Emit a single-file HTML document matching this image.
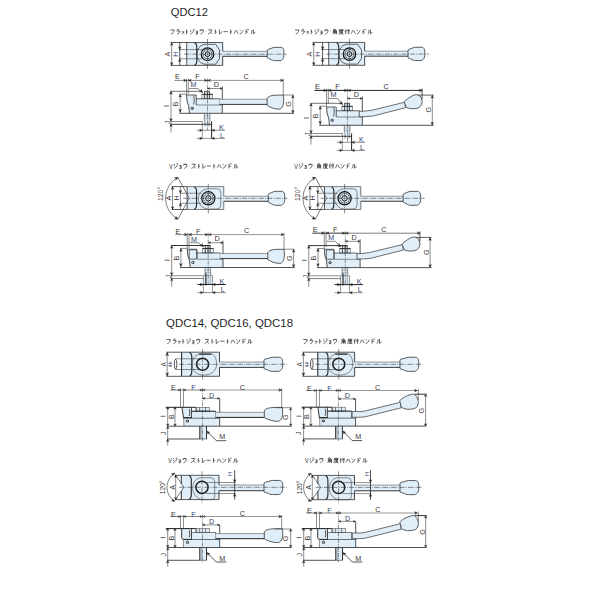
<!DOCTYPE html>
<html><head><meta charset="utf-8"><style>
html,body{margin:0;padding:0;background:#fff;}
svg{display:block;font-family:"Liberation Sans",sans-serif;}
</style></head><body>
<svg width="600" height="600" viewBox="0 0 600 600">
<rect width="600" height="600" fill="#fff"/>
<text x="170.8" y="16.3" font-size="11.7" fill="#1e1e1e" textLength="37.1" lengthAdjust="spacingAndGlyphs">QDC12</text>
<text x="166" y="326.8" font-size="11.7" fill="#1e1e1e" textLength="127" lengthAdjust="spacingAndGlyphs">QDC14, QDC16, QDC18</text>
<path transform="translate(169.5,29) scale(0.54,0.53)" d="M1.5,1.8 H8.6 C8.4,5.5 6.5,8.2 2.8,9.6" stroke="#222" stroke-width="1.31" fill="none" stroke-linecap="butt"/>
<path transform="translate(175.71,29) scale(0.48,0.53)" d="M2.8,1.2 H7.4 M1.8,3.8 H8.4 C8.2,7 6.3,8.8 3,9.6" stroke="#222" stroke-width="1.39" fill="none" stroke-linecap="butt"/>
<path transform="translate(181.09,29) scale(0.35,0.53)" d="M2.6,4.6 L3.4,6.6 M4.8,4.2 L5.5,6.2 M7.8,4.4 C7.6,7.4 6,8.9 3.6,9.6" stroke="#222" stroke-width="1.59" fill="none" stroke-linecap="butt"/>
<path transform="translate(185.33,29) scale(0.33,0.53)" d="M3.6,0.8 V9.6 M3.6,4.4 L8,6.2" stroke="#222" stroke-width="1.63" fill="none" stroke-linecap="butt"/>
<path transform="translate(189.47,29) scale(0.51,0.53)" d="M1.6,1.6 L3.6,2.8 M1,4.4 L3,5.6 M1.8,9.4 C5.5,8 7.6,5.4 8.6,2.2 M6.8,0.2 L7.6,1.6 M8.6,0 L9.4,1.4" stroke="#222" stroke-width="1.35" fill="none" stroke-linecap="butt"/>
<path transform="translate(194.85,29) scale(0.35,0.53)" d="M2.4,4 H7.4 V9.6 H2.4 M2.8,6.8 H7.4" stroke="#222" stroke-width="1.59" fill="none" stroke-linecap="butt"/>
<path transform="translate(199.2,29) scale(0.5,0.53)" d="M5,0.2 V2 M1.8,2 V4.4 M1.8,2 H8.4 C8.2,6 6.4,8.6 3,9.6" stroke="#222" stroke-width="1.36" fill="none" stroke-linecap="butt"/>
<path transform="translate(205,29) scale(0.17,0.53)" d="M4.4,5 H5.6" stroke="#222" stroke-width="2.01" fill="none" stroke-linecap="butt"/>
<path transform="translate(207.27,29) scale(0.58,0.53)" d="M1.8,1.6 H7.8 C6.6,5.4 4.6,7.8 1.2,9.6 M5.4,5.8 L8.8,9.2" stroke="#222" stroke-width="1.26" fill="none" stroke-linecap="butt"/>
<path transform="translate(214.1,29) scale(0.33,0.53)" d="M3.6,0.8 V9.6 M3.6,4.4 L8,6.2" stroke="#222" stroke-width="1.63" fill="none" stroke-linecap="butt"/>
<path transform="translate(218.24,29) scale(0.43,0.53)" d="M2.8,0.8 V9.2 C6,8.6 7.8,6.6 9,4.2" stroke="#222" stroke-width="1.45" fill="none" stroke-linecap="butt"/>
<path transform="translate(223.21,29) scale(0.5,0.53)" d="M0.8,5 H9.2" stroke="#222" stroke-width="1.36" fill="none" stroke-linecap="butt"/>
<path transform="translate(229.42,29) scale(0.33,0.53)" d="M3.6,0.8 V9.6 M3.6,4.4 L8,6.2" stroke="#222" stroke-width="1.63" fill="none" stroke-linecap="butt"/>
<path transform="translate(233.56,29) scale(0.5,0.53)" d="M3.6,2.4 C3.4,5.6 2.4,7.6 0.8,9 M6.2,2.4 C7.2,5.4 8,7.2 9.4,8.8" stroke="#222" stroke-width="1.36" fill="none" stroke-linecap="butt"/>
<path transform="translate(238.94,29) scale(0.47,0.53)" d="M1.4,1.8 L3.8,3.4 M1.6,9.4 C5.6,8.4 7.6,6 8.8,2.4" stroke="#222" stroke-width="1.41" fill="none" stroke-linecap="butt"/>
<path transform="translate(244.32,29) scale(0.48,0.53)" d="M3.6,0.8 V9.6 M3.6,4.4 L7.6,6.2 M6.6,0.4 L7.2,2 M8.4,0.2 L9,1.8" stroke="#222" stroke-width="1.39" fill="none" stroke-linecap="butt"/>
<path transform="translate(250.12,29) scale(0.54,0.53)" d="M3.4,1.6 C3.4,6 3,8 1,9.6 M6,1.2 V9.2 C7.6,8.4 8.6,7.2 9.4,5.6" stroke="#222" stroke-width="1.31" fill="none" stroke-linecap="butt"/>
<path transform="translate(294.2,29) scale(0.54,0.53)" d="M1.5,1.8 H8.6 C8.4,5.5 6.5,8.2 2.8,9.6" stroke="#222" stroke-width="1.31" fill="none" stroke-linecap="butt"/>
<path transform="translate(300.4,29) scale(0.48,0.53)" d="M2.8,1.2 H7.4 M1.8,3.8 H8.4 C8.2,7 6.3,8.8 3,9.6" stroke="#222" stroke-width="1.39" fill="none" stroke-linecap="butt"/>
<path transform="translate(305.77,29) scale(0.35,0.53)" d="M2.6,4.6 L3.4,6.6 M4.8,4.2 L5.5,6.2 M7.8,4.4 C7.6,7.4 6,8.9 3.6,9.6" stroke="#222" stroke-width="1.59" fill="none" stroke-linecap="butt"/>
<path transform="translate(310,29) scale(0.33,0.53)" d="M3.6,0.8 V9.6 M3.6,4.4 L8,6.2" stroke="#222" stroke-width="1.63" fill="none" stroke-linecap="butt"/>
<path transform="translate(314.14,29) scale(0.51,0.53)" d="M1.6,1.6 L3.6,2.8 M1,4.4 L3,5.6 M1.8,9.4 C5.5,8 7.6,5.4 8.6,2.2 M6.8,0.2 L7.6,1.6 M8.6,0 L9.4,1.4" stroke="#222" stroke-width="1.35" fill="none" stroke-linecap="butt"/>
<path transform="translate(319.51,29) scale(0.35,0.53)" d="M2.4,4 H7.4 V9.6 H2.4 M2.8,6.8 H7.4" stroke="#222" stroke-width="1.59" fill="none" stroke-linecap="butt"/>
<path transform="translate(323.85,29) scale(0.5,0.53)" d="M5,0.2 V2 M1.8,2 V4.4 M1.8,2 H8.4 C8.2,6 6.4,8.6 3,9.6" stroke="#222" stroke-width="1.36" fill="none" stroke-linecap="butt"/>
<path transform="translate(329.63,29) scale(0.17,0.53)" d="M4.4,5 H5.6" stroke="#222" stroke-width="2.01" fill="none" stroke-linecap="butt"/>
<path transform="translate(331.9,29) scale(0.56,0.53)" d="M3.6,0.2 L2,2.2 M3.4,1 H6.6 L5.6,2.4 M2.6,3 V7 C2.6,8.4 2,9.2 1.2,9.8 M2.6,3 H8.2 V9.8 M2.6,5 H8.2 M2.6,7 H8.2 M5.4,3 V9.8" stroke="#222" stroke-width="1.29" fill="none" stroke-linecap="butt"/>
<path transform="translate(338.41,29) scale(0.56,0.53)" d="M5,0 V1.2 M1.6,1.4 H9.2 M1.8,1.4 V6 C1.8,7.8 1.4,8.8 0.6,9.8 M2.8,3.4 H8.8 M4.4,2.4 V5.4 M7.2,2.4 V5.4 M4.4,5.4 H7.2 M3.4,6.6 H7.8 C6.6,8.6 4.8,9.4 2.6,9.8 M4.6,7.4 C6,8.8 7.6,9.4 9.2,9.8" stroke="#222" stroke-width="1.29" fill="none" stroke-linecap="butt"/>
<path transform="translate(344.61,29) scale(0.54,0.53)" d="M3,0.2 C2.4,2.4 1.6,4 0.4,5.4 M2,3.4 V9.8 M3.8,3 H9.6 M7.8,0.2 V9.4 L6.8,8.8 M4.6,4.8 L5.8,6.6" stroke="#222" stroke-width="1.31" fill="none" stroke-linecap="butt"/>
<path transform="translate(350.6,29) scale(0.5,0.53)" d="M3.6,2.4 C3.4,5.6 2.4,7.6 0.8,9 M6.2,2.4 C7.2,5.4 8,7.2 9.4,8.8" stroke="#222" stroke-width="1.36" fill="none" stroke-linecap="butt"/>
<path transform="translate(355.97,29) scale(0.46,0.53)" d="M1.4,1.8 L3.8,3.4 M1.6,9.4 C5.6,8.4 7.6,6 8.8,2.4" stroke="#222" stroke-width="1.41" fill="none" stroke-linecap="butt"/>
<path transform="translate(361.34,29) scale(0.48,0.53)" d="M3.6,0.8 V9.6 M3.6,4.4 L7.6,6.2 M6.6,0.4 L7.2,2 M8.4,0.2 L9,1.8" stroke="#222" stroke-width="1.39" fill="none" stroke-linecap="butt"/>
<path transform="translate(367.13,29) scale(0.54,0.53)" d="M3.4,1.6 C3.4,6 3,8 1,9.6 M6,1.2 V9.2 C7.6,8.4 8.6,7.2 9.4,5.6" stroke="#222" stroke-width="1.31" fill="none" stroke-linecap="butt"/>
<text x="169.2" y="168.65" font-size="7.21" fill="#222" textLength="3.47" lengthAdjust="spacingAndGlyphs">V</text>
<path transform="translate(173.28,163.35) scale(0.5,0.53)" d="M1.6,1.6 L3.6,2.8 M1,4.4 L3,5.6 M1.8,9.4 C5.5,8 7.6,5.4 8.6,2.2 M6.8,0.2 L7.6,1.6 M8.6,0 L9.4,1.4" stroke="#222" stroke-width="1.36" fill="none" stroke-linecap="butt"/>
<path transform="translate(178.58,163.35) scale(0.35,0.53)" d="M2.4,4 H7.4 V9.6 H2.4 M2.8,6.8 H7.4" stroke="#222" stroke-width="1.6" fill="none" stroke-linecap="butt"/>
<path transform="translate(182.86,163.35) scale(0.49,0.53)" d="M5,0.2 V2 M1.8,2 V4.4 M1.8,2 H8.4 C8.2,6 6.4,8.6 3,9.6" stroke="#222" stroke-width="1.37" fill="none" stroke-linecap="butt"/>
<path transform="translate(188.56,163.35) scale(0.16,0.53)" d="M4.4,5 H5.6" stroke="#222" stroke-width="2.02" fill="none" stroke-linecap="butt"/>
<path transform="translate(190.81,163.35) scale(0.57,0.53)" d="M1.8,1.6 H7.8 C6.6,5.4 4.6,7.8 1.2,9.6 M5.4,5.8 L8.8,9.2" stroke="#222" stroke-width="1.27" fill="none" stroke-linecap="butt"/>
<path transform="translate(197.53,163.35) scale(0.33,0.53)" d="M3.6,0.8 V9.6 M3.6,4.4 L8,6.2" stroke="#222" stroke-width="1.64" fill="none" stroke-linecap="butt"/>
<path transform="translate(201.61,163.35) scale(0.43,0.53)" d="M2.8,0.8 V9.2 C6,8.6 7.8,6.6 9,4.2" stroke="#222" stroke-width="1.46" fill="none" stroke-linecap="butt"/>
<path transform="translate(206.5,163.35) scale(0.49,0.53)" d="M0.8,5 H9.2" stroke="#222" stroke-width="1.37" fill="none" stroke-linecap="butt"/>
<path transform="translate(212.62,163.35) scale(0.33,0.53)" d="M3.6,0.8 V9.6 M3.6,4.4 L8,6.2" stroke="#222" stroke-width="1.64" fill="none" stroke-linecap="butt"/>
<path transform="translate(216.69,163.35) scale(0.49,0.53)" d="M3.6,2.4 C3.4,5.6 2.4,7.6 0.8,9 M6.2,2.4 C7.2,5.4 8,7.2 9.4,8.8" stroke="#222" stroke-width="1.37" fill="none" stroke-linecap="butt"/>
<path transform="translate(221.99,163.35) scale(0.46,0.53)" d="M1.4,1.8 L3.8,3.4 M1.6,9.4 C5.6,8.4 7.6,6 8.8,2.4" stroke="#222" stroke-width="1.42" fill="none" stroke-linecap="butt"/>
<path transform="translate(227.29,163.35) scale(0.47,0.53)" d="M3.6,0.8 V9.6 M3.6,4.4 L7.6,6.2 M6.6,0.4 L7.2,2 M8.4,0.2 L9,1.8" stroke="#222" stroke-width="1.4" fill="none" stroke-linecap="butt"/>
<path transform="translate(233,163.35) scale(0.53,0.53)" d="M3.4,1.6 C3.4,6 3,8 1,9.6 M6,1.2 V9.2 C7.6,8.4 8.6,7.2 9.4,5.6" stroke="#222" stroke-width="1.32" fill="none" stroke-linecap="butt"/>
<text x="294.2" y="168.65" font-size="7.21" fill="#222" textLength="3.51" lengthAdjust="spacingAndGlyphs">V</text>
<path transform="translate(298.33,163.35) scale(0.51,0.53)" d="M1.6,1.6 L3.6,2.8 M1,4.4 L3,5.6 M1.8,9.4 C5.5,8 7.6,5.4 8.6,2.2 M6.8,0.2 L7.6,1.6 M8.6,0 L9.4,1.4" stroke="#222" stroke-width="1.35" fill="none" stroke-linecap="butt"/>
<path transform="translate(303.7,163.35) scale(0.35,0.53)" d="M2.4,4 H7.4 V9.6 H2.4 M2.8,6.8 H7.4" stroke="#222" stroke-width="1.59" fill="none" stroke-linecap="butt"/>
<path transform="translate(308.04,163.35) scale(0.5,0.53)" d="M5,0.2 V2 M1.8,2 V4.4 M1.8,2 H8.4 C8.2,6 6.4,8.6 3,9.6" stroke="#222" stroke-width="1.36" fill="none" stroke-linecap="butt"/>
<path transform="translate(313.83,163.35) scale(0.17,0.53)" d="M4.4,5 H5.6" stroke="#222" stroke-width="2.01" fill="none" stroke-linecap="butt"/>
<path transform="translate(316.1,163.35) scale(0.56,0.53)" d="M3.6,0.2 L2,2.2 M3.4,1 H6.6 L5.6,2.4 M2.6,3 V7 C2.6,8.4 2,9.2 1.2,9.8 M2.6,3 H8.2 V9.8 M2.6,5 H8.2 M2.6,7 H8.2 M5.4,3 V9.8" stroke="#222" stroke-width="1.29" fill="none" stroke-linecap="butt"/>
<path transform="translate(322.61,163.35) scale(0.56,0.53)" d="M5,0 V1.2 M1.6,1.4 H9.2 M1.8,1.4 V6 C1.8,7.8 1.4,8.8 0.6,9.8 M2.8,3.4 H8.8 M4.4,2.4 V5.4 M7.2,2.4 V5.4 M4.4,5.4 H7.2 M3.4,6.6 H7.8 C6.6,8.6 4.8,9.4 2.6,9.8 M4.6,7.4 C6,8.8 7.6,9.4 9.2,9.8" stroke="#222" stroke-width="1.29" fill="none" stroke-linecap="butt"/>
<path transform="translate(328.81,163.35) scale(0.54,0.53)" d="M3,0.2 C2.4,2.4 1.6,4 0.4,5.4 M2,3.4 V9.8 M3.8,3 H9.6 M7.8,0.2 V9.4 L6.8,8.8 M4.6,4.8 L5.8,6.6" stroke="#222" stroke-width="1.31" fill="none" stroke-linecap="butt"/>
<path transform="translate(334.8,163.35) scale(0.5,0.53)" d="M3.6,2.4 C3.4,5.6 2.4,7.6 0.8,9 M6.2,2.4 C7.2,5.4 8,7.2 9.4,8.8" stroke="#222" stroke-width="1.36" fill="none" stroke-linecap="butt"/>
<path transform="translate(340.17,163.35) scale(0.46,0.53)" d="M1.4,1.8 L3.8,3.4 M1.6,9.4 C5.6,8.4 7.6,6 8.8,2.4" stroke="#222" stroke-width="1.41" fill="none" stroke-linecap="butt"/>
<path transform="translate(345.54,163.35) scale(0.48,0.53)" d="M3.6,0.8 V9.6 M3.6,4.4 L7.6,6.2 M6.6,0.4 L7.2,2 M8.4,0.2 L9,1.8" stroke="#222" stroke-width="1.39" fill="none" stroke-linecap="butt"/>
<path transform="translate(351.33,163.35) scale(0.54,0.53)" d="M3.4,1.6 C3.4,6 3,8 1,9.6 M6,1.2 V9.2 C7.6,8.4 8.6,7.2 9.4,5.6" stroke="#222" stroke-width="1.31" fill="none" stroke-linecap="butt"/>
<path transform="translate(165.8,338.55) scale(0.54,0.53)" d="M1.5,1.8 H8.6 C8.4,5.5 6.5,8.2 2.8,9.6" stroke="#222" stroke-width="1.31" fill="none" stroke-linecap="butt"/>
<path transform="translate(172.06,338.55) scale(0.48,0.53)" d="M2.8,1.2 H7.4 M1.8,3.8 H8.4 C8.2,7 6.3,8.8 3,9.6" stroke="#222" stroke-width="1.39" fill="none" stroke-linecap="butt"/>
<path transform="translate(177.49,338.55) scale(0.35,0.53)" d="M2.6,4.6 L3.4,6.6 M4.8,4.2 L5.5,6.2 M7.8,4.4 C7.6,7.4 6,8.9 3.6,9.6" stroke="#222" stroke-width="1.58" fill="none" stroke-linecap="butt"/>
<path transform="translate(181.76,338.55) scale(0.33,0.53)" d="M3.6,0.8 V9.6 M3.6,4.4 L8,6.2" stroke="#222" stroke-width="1.62" fill="none" stroke-linecap="butt"/>
<path transform="translate(185.94,338.55) scale(0.51,0.53)" d="M1.6,1.6 L3.6,2.8 M1,4.4 L3,5.6 M1.8,9.4 C5.5,8 7.6,5.4 8.6,2.2 M6.8,0.2 L7.6,1.6 M8.6,0 L9.4,1.4" stroke="#222" stroke-width="1.34" fill="none" stroke-linecap="butt"/>
<path transform="translate(191.36,338.55) scale(0.35,0.53)" d="M2.4,4 H7.4 V9.6 H2.4 M2.8,6.8 H7.4" stroke="#222" stroke-width="1.58" fill="none" stroke-linecap="butt"/>
<path transform="translate(195.74,338.55) scale(0.5,0.53)" d="M5,0.2 V2 M1.8,2 V4.4 M1.8,2 H8.4 C8.2,6 6.4,8.6 3,9.6" stroke="#222" stroke-width="1.36" fill="none" stroke-linecap="butt"/>
<path transform="translate(201.59,338.55) scale(0.17,0.53)" d="M4.4,5 H5.6" stroke="#222" stroke-width="2.01" fill="none" stroke-linecap="butt"/>
<path transform="translate(203.88,338.55) scale(0.58,0.53)" d="M1.8,1.6 H7.8 C6.6,5.4 4.6,7.8 1.2,9.6 M5.4,5.8 L8.8,9.2" stroke="#222" stroke-width="1.26" fill="none" stroke-linecap="butt"/>
<path transform="translate(210.77,338.55) scale(0.33,0.53)" d="M3.6,0.8 V9.6 M3.6,4.4 L8,6.2" stroke="#222" stroke-width="1.62" fill="none" stroke-linecap="butt"/>
<path transform="translate(214.94,338.55) scale(0.44,0.53)" d="M2.8,0.8 V9.2 C6,8.6 7.8,6.6 9,4.2" stroke="#222" stroke-width="1.45" fill="none" stroke-linecap="butt"/>
<path transform="translate(219.95,338.55) scale(0.5,0.53)" d="M0.8,5 H9.2" stroke="#222" stroke-width="1.36" fill="none" stroke-linecap="butt"/>
<path transform="translate(226.21,338.55) scale(0.33,0.53)" d="M3.6,0.8 V9.6 M3.6,4.4 L8,6.2" stroke="#222" stroke-width="1.62" fill="none" stroke-linecap="butt"/>
<path transform="translate(230.38,338.55) scale(0.5,0.53)" d="M3.6,2.4 C3.4,5.6 2.4,7.6 0.8,9 M6.2,2.4 C7.2,5.4 8,7.2 9.4,8.8" stroke="#222" stroke-width="1.36" fill="none" stroke-linecap="butt"/>
<path transform="translate(235.81,338.55) scale(0.47,0.53)" d="M1.4,1.8 L3.8,3.4 M1.6,9.4 C5.6,8.4 7.6,6 8.8,2.4" stroke="#222" stroke-width="1.4" fill="none" stroke-linecap="butt"/>
<path transform="translate(241.23,338.55) scale(0.48,0.53)" d="M3.6,0.8 V9.6 M3.6,4.4 L7.6,6.2 M6.6,0.4 L7.2,2 M8.4,0.2 L9,1.8" stroke="#222" stroke-width="1.39" fill="none" stroke-linecap="butt"/>
<path transform="translate(247.07,338.55) scale(0.54,0.53)" d="M3.4,1.6 C3.4,6 3,8 1,9.6 M6,1.2 V9.2 C7.6,8.4 8.6,7.2 9.4,5.6" stroke="#222" stroke-width="1.31" fill="none" stroke-linecap="butt"/>
<path transform="translate(302.5,338.55) scale(0.54,0.53)" d="M1.5,1.8 H8.6 C8.4,5.5 6.5,8.2 2.8,9.6" stroke="#222" stroke-width="1.3" fill="none" stroke-linecap="butt"/>
<path transform="translate(308.77,338.55) scale(0.48,0.53)" d="M2.8,1.2 H7.4 M1.8,3.8 H8.4 C8.2,7 6.3,8.8 3,9.6" stroke="#222" stroke-width="1.39" fill="none" stroke-linecap="butt"/>
<path transform="translate(314.2,338.55) scale(0.36,0.53)" d="M2.6,4.6 L3.4,6.6 M4.8,4.2 L5.5,6.2 M7.8,4.4 C7.6,7.4 6,8.9 3.6,9.6" stroke="#222" stroke-width="1.58" fill="none" stroke-linecap="butt"/>
<path transform="translate(318.49,338.55) scale(0.33,0.53)" d="M3.6,0.8 V9.6 M3.6,4.4 L8,6.2" stroke="#222" stroke-width="1.62" fill="none" stroke-linecap="butt"/>
<path transform="translate(322.67,338.55) scale(0.51,0.53)" d="M1.6,1.6 L3.6,2.8 M1,4.4 L3,5.6 M1.8,9.4 C5.5,8 7.6,5.4 8.6,2.2 M6.8,0.2 L7.6,1.6 M8.6,0 L9.4,1.4" stroke="#222" stroke-width="1.34" fill="none" stroke-linecap="butt"/>
<path transform="translate(328.1,338.55) scale(0.36,0.53)" d="M2.4,4 H7.4 V9.6 H2.4 M2.8,6.8 H7.4" stroke="#222" stroke-width="1.58" fill="none" stroke-linecap="butt"/>
<path transform="translate(332.49,338.55) scale(0.5,0.53)" d="M5,0.2 V2 M1.8,2 V4.4 M1.8,2 H8.4 C8.2,6 6.4,8.6 3,9.6" stroke="#222" stroke-width="1.36" fill="none" stroke-linecap="butt"/>
<path transform="translate(338.34,338.55) scale(0.17,0.53)" d="M4.4,5 H5.6" stroke="#222" stroke-width="2.01" fill="none" stroke-linecap="butt"/>
<path transform="translate(340.64,338.55) scale(0.56,0.53)" d="M3.6,0.2 L2,2.2 M3.4,1 H6.6 L5.6,2.4 M2.6,3 V7 C2.6,8.4 2,9.2 1.2,9.8 M2.6,3 H8.2 V9.8 M2.6,5 H8.2 M2.6,7 H8.2 M5.4,3 V9.8" stroke="#222" stroke-width="1.28" fill="none" stroke-linecap="butt"/>
<path transform="translate(347.22,338.55) scale(0.56,0.53)" d="M5,0 V1.2 M1.6,1.4 H9.2 M1.8,1.4 V6 C1.8,7.8 1.4,8.8 0.6,9.8 M2.8,3.4 H8.8 M4.4,2.4 V5.4 M7.2,2.4 V5.4 M4.4,5.4 H7.2 M3.4,6.6 H7.8 C6.6,8.6 4.8,9.4 2.6,9.8 M4.6,7.4 C6,8.8 7.6,9.4 9.2,9.8" stroke="#222" stroke-width="1.28" fill="none" stroke-linecap="butt"/>
<path transform="translate(353.49,338.55) scale(0.54,0.53)" d="M3,0.2 C2.4,2.4 1.6,4 0.4,5.4 M2,3.4 V9.8 M3.8,3 H9.6 M7.8,0.2 V9.4 L6.8,8.8 M4.6,4.8 L5.8,6.6" stroke="#222" stroke-width="1.3" fill="none" stroke-linecap="butt"/>
<path transform="translate(359.55,338.55) scale(0.5,0.53)" d="M3.6,2.4 C3.4,5.6 2.4,7.6 0.8,9 M6.2,2.4 C7.2,5.4 8,7.2 9.4,8.8" stroke="#222" stroke-width="1.36" fill="none" stroke-linecap="butt"/>
<path transform="translate(364.98,338.55) scale(0.47,0.53)" d="M1.4,1.8 L3.8,3.4 M1.6,9.4 C5.6,8.4 7.6,6 8.8,2.4" stroke="#222" stroke-width="1.4" fill="none" stroke-linecap="butt"/>
<path transform="translate(370.42,338.55) scale(0.48,0.53)" d="M3.6,0.8 V9.6 M3.6,4.4 L7.6,6.2 M6.6,0.4 L7.2,2 M8.4,0.2 L9,1.8" stroke="#222" stroke-width="1.39" fill="none" stroke-linecap="butt"/>
<path transform="translate(376.27,338.55) scale(0.54,0.53)" d="M3.4,1.6 C3.4,6 3,8 1,9.6 M6,1.2 V9.2 C7.6,8.4 8.6,7.2 9.4,5.6" stroke="#222" stroke-width="1.3" fill="none" stroke-linecap="butt"/>
<text x="168.3" y="462.95" font-size="7.21" fill="#222" textLength="3.51" lengthAdjust="spacingAndGlyphs">V</text>
<path transform="translate(172.43,457.65) scale(0.51,0.53)" d="M1.6,1.6 L3.6,2.8 M1,4.4 L3,5.6 M1.8,9.4 C5.5,8 7.6,5.4 8.6,2.2 M6.8,0.2 L7.6,1.6 M8.6,0 L9.4,1.4" stroke="#222" stroke-width="1.35" fill="none" stroke-linecap="butt"/>
<path transform="translate(177.8,457.65) scale(0.35,0.53)" d="M2.4,4 H7.4 V9.6 H2.4 M2.8,6.8 H7.4" stroke="#222" stroke-width="1.59" fill="none" stroke-linecap="butt"/>
<path transform="translate(182.13,457.65) scale(0.5,0.53)" d="M5,0.2 V2 M1.8,2 V4.4 M1.8,2 H8.4 C8.2,6 6.4,8.6 3,9.6" stroke="#222" stroke-width="1.37" fill="none" stroke-linecap="butt"/>
<path transform="translate(187.92,457.65) scale(0.17,0.53)" d="M4.4,5 H5.6" stroke="#222" stroke-width="2.01" fill="none" stroke-linecap="butt"/>
<path transform="translate(190.19,457.65) scale(0.58,0.53)" d="M1.8,1.6 H7.8 C6.6,5.4 4.6,7.8 1.2,9.6 M5.4,5.8 L8.8,9.2" stroke="#222" stroke-width="1.26" fill="none" stroke-linecap="butt"/>
<path transform="translate(197,457.65) scale(0.33,0.53)" d="M3.6,0.8 V9.6 M3.6,4.4 L8,6.2" stroke="#222" stroke-width="1.63" fill="none" stroke-linecap="butt"/>
<path transform="translate(201.13,457.65) scale(0.43,0.53)" d="M2.8,0.8 V9.2 C6,8.6 7.8,6.6 9,4.2" stroke="#222" stroke-width="1.45" fill="none" stroke-linecap="butt"/>
<path transform="translate(206.09,457.65) scale(0.5,0.53)" d="M0.8,5 H9.2" stroke="#222" stroke-width="1.37" fill="none" stroke-linecap="butt"/>
<path transform="translate(212.28,457.65) scale(0.33,0.53)" d="M3.6,0.8 V9.6 M3.6,4.4 L8,6.2" stroke="#222" stroke-width="1.63" fill="none" stroke-linecap="butt"/>
<path transform="translate(216.41,457.65) scale(0.5,0.53)" d="M3.6,2.4 C3.4,5.6 2.4,7.6 0.8,9 M6.2,2.4 C7.2,5.4 8,7.2 9.4,8.8" stroke="#222" stroke-width="1.37" fill="none" stroke-linecap="butt"/>
<path transform="translate(221.78,457.65) scale(0.46,0.53)" d="M1.4,1.8 L3.8,3.4 M1.6,9.4 C5.6,8.4 7.6,6 8.8,2.4" stroke="#222" stroke-width="1.41" fill="none" stroke-linecap="butt"/>
<path transform="translate(227.15,457.65) scale(0.47,0.53)" d="M3.6,0.8 V9.6 M3.6,4.4 L7.6,6.2 M6.6,0.4 L7.2,2 M8.4,0.2 L9,1.8" stroke="#222" stroke-width="1.39" fill="none" stroke-linecap="butt"/>
<path transform="translate(232.93,457.65) scale(0.54,0.53)" d="M3.4,1.6 C3.4,6 3,8 1,9.6 M6,1.2 V9.2 C7.6,8.4 8.6,7.2 9.4,5.6" stroke="#222" stroke-width="1.31" fill="none" stroke-linecap="butt"/>
<text x="305" y="462.95" font-size="7.21" fill="#222" textLength="3.51" lengthAdjust="spacingAndGlyphs">V</text>
<path transform="translate(309.13,457.65) scale(0.51,0.53)" d="M1.6,1.6 L3.6,2.8 M1,4.4 L3,5.6 M1.8,9.4 C5.5,8 7.6,5.4 8.6,2.2 M6.8,0.2 L7.6,1.6 M8.6,0 L9.4,1.4" stroke="#222" stroke-width="1.35" fill="none" stroke-linecap="butt"/>
<path transform="translate(314.5,457.65) scale(0.35,0.53)" d="M2.4,4 H7.4 V9.6 H2.4 M2.8,6.8 H7.4" stroke="#222" stroke-width="1.59" fill="none" stroke-linecap="butt"/>
<path transform="translate(318.84,457.65) scale(0.5,0.53)" d="M5,0.2 V2 M1.8,2 V4.4 M1.8,2 H8.4 C8.2,6 6.4,8.6 3,9.6" stroke="#222" stroke-width="1.36" fill="none" stroke-linecap="butt"/>
<path transform="translate(324.63,457.65) scale(0.17,0.53)" d="M4.4,5 H5.6" stroke="#222" stroke-width="2.01" fill="none" stroke-linecap="butt"/>
<path transform="translate(326.9,457.65) scale(0.56,0.53)" d="M3.6,0.2 L2,2.2 M3.4,1 H6.6 L5.6,2.4 M2.6,3 V7 C2.6,8.4 2,9.2 1.2,9.8 M2.6,3 H8.2 V9.8 M2.6,5 H8.2 M2.6,7 H8.2 M5.4,3 V9.8" stroke="#222" stroke-width="1.29" fill="none" stroke-linecap="butt"/>
<path transform="translate(333.41,457.65) scale(0.56,0.53)" d="M5,0 V1.2 M1.6,1.4 H9.2 M1.8,1.4 V6 C1.8,7.8 1.4,8.8 0.6,9.8 M2.8,3.4 H8.8 M4.4,2.4 V5.4 M7.2,2.4 V5.4 M4.4,5.4 H7.2 M3.4,6.6 H7.8 C6.6,8.6 4.8,9.4 2.6,9.8 M4.6,7.4 C6,8.8 7.6,9.4 9.2,9.8" stroke="#222" stroke-width="1.29" fill="none" stroke-linecap="butt"/>
<path transform="translate(339.61,457.65) scale(0.54,0.53)" d="M3,0.2 C2.4,2.4 1.6,4 0.4,5.4 M2,3.4 V9.8 M3.8,3 H9.6 M7.8,0.2 V9.4 L6.8,8.8 M4.6,4.8 L5.8,6.6" stroke="#222" stroke-width="1.31" fill="none" stroke-linecap="butt"/>
<path transform="translate(345.6,457.65) scale(0.5,0.53)" d="M3.6,2.4 C3.4,5.6 2.4,7.6 0.8,9 M6.2,2.4 C7.2,5.4 8,7.2 9.4,8.8" stroke="#222" stroke-width="1.36" fill="none" stroke-linecap="butt"/>
<path transform="translate(350.97,457.65) scale(0.46,0.53)" d="M1.4,1.8 L3.8,3.4 M1.6,9.4 C5.6,8.4 7.6,6 8.8,2.4" stroke="#222" stroke-width="1.41" fill="none" stroke-linecap="butt"/>
<path transform="translate(356.34,457.65) scale(0.48,0.53)" d="M3.6,0.8 V9.6 M3.6,4.4 L7.6,6.2 M6.6,0.4 L7.2,2 M8.4,0.2 L9,1.8" stroke="#222" stroke-width="1.39" fill="none" stroke-linecap="butt"/>
<path transform="translate(362.13,457.65) scale(0.54,0.53)" d="M3.4,1.6 C3.4,6 3,8 1,9.6 M6,1.2 V9.2 C7.6,8.4 8.6,7.2 9.4,5.6" stroke="#222" stroke-width="1.31" fill="none" stroke-linecap="butt"/>
<rect x="186.7" y="42.5" width="36" height="22.9" fill="#e0eef9"/>
<rect x="222.7" y="51.3" width="44.6" height="5" fill="#e0eef9"/>
<line x1="222.7" y1="51.3" x2="267.3" y2="51.3" stroke="#555" stroke-width="0.6"/>
<line x1="222.7" y1="56.3" x2="267.3" y2="56.3" stroke="#222" stroke-width="0.9"/>
<path d="M267.3,50.15 C268.29,49.21 269.49,48.84 270.98,48.44 C272.27,47.95 273.26,47.35 274.76,47.35 L281.12,47.35 C282.21,47.35 283.2,48.24 283.6,49.43 C284,50.53 284,52.01 284,54 C284,56.48 283.8,57.97 282.71,59.16 C281.81,60.15 281.02,60.65 280.02,60.65 L274.76,60.65 C273.07,60.65 271.57,59.96 269.98,59.06 C269.09,58.68 268.19,58.06 267.3,57.75 Z" stroke="#333" stroke-width="0.8" fill="#e0eef9" />
<line x1="170.5" y1="42.5" x2="222.7" y2="42.5" stroke="#262626" stroke-width="0.75"/>
<line x1="170.5" y1="65.4" x2="222.7" y2="65.4" stroke="#262626" stroke-width="0.75"/>
<line x1="186.7" y1="42.5" x2="186.7" y2="65.4" stroke="#262626" stroke-width="0.75"/>
<line x1="222.7" y1="42.5" x2="222.7" y2="51.3" stroke="#262626" stroke-width="0.85"/>
<line x1="222.7" y1="56.3" x2="222.7" y2="65.4" stroke="#262626" stroke-width="0.85"/>
<line x1="179" y1="49.6" x2="202.5" y2="49.6" stroke="#444" stroke-width="0.6"/>
<line x1="179" y1="58.75" x2="202.5" y2="58.75" stroke="#444" stroke-width="0.6"/>
<path d="M194.5,42.8 C196.5,43.5 196.8,45.5 196.8,47.5 L196.8,60.4 C196.8,62.4 196.5,64.4 194.5,65.1" stroke="#1a1a1a" stroke-width="1.05" fill="none" />
<path d="M204,44.3 H215.7 L219.5,50 V58.5 L215.7,64.2 H204 A10.5,10.5 0 0 1 204,44.3 Z" stroke="#333" stroke-width="0.75" fill="none" />
<circle cx="207.5" cy="54.2" r="6.3" stroke="#141414" stroke-width="1.25" fill="#e0eef9"/>
<circle cx="207.5" cy="54.2" r="4.5" stroke="#222" stroke-width="0.95" fill="none" stroke-dasharray="1.7,0.6"/>
<circle cx="207.5" cy="54.2" r="2.4" stroke="#1a1a1a" stroke-width="1.0" fill="none"/>
<circle cx="207.5" cy="54.2" r="0.9" stroke="#555" stroke-width="0.5" fill="none"/>
<line x1="207.5" y1="39" x2="207.5" y2="68.7" stroke="#3a3a3a" stroke-width="0.6" stroke-dasharray="5,1.2,1,1.2"/>
<line x1="184" y1="54.2" x2="286.7" y2="54.2" stroke="#3a3a3a" stroke-width="0.6" stroke-dasharray="5,1.2,1,1.2"/>
<line x1="171.7" y1="42.5" x2="171.7" y2="65.4" stroke="#404040" stroke-width="0.6"/>
<path d="M171.7,42.5 L173.12,45.4 L171.7,44.59 L170.28,45.4 Z" fill="#222" stroke="#222" stroke-width="0.25" stroke-linejoin="round"/>
<path d="M171.7,65.4 L170.28,62.5 L171.7,63.31 L173.12,62.5 Z" fill="#222" stroke="#222" stroke-width="0.25" stroke-linejoin="round"/>
<line x1="179.75" y1="42.5" x2="179.75" y2="65.4" stroke="#2a2a2a" stroke-width="0.8"/>
<path d="M179.75,49.6 L178.33,46.7 L179.75,47.51 L181.17,46.7 Z" fill="#222" stroke="#222" stroke-width="0.25" stroke-linejoin="round"/>
<path d="M179.75,58.75 L181.17,61.65 L179.75,60.84 L178.33,61.65 Z" fill="#222" stroke="#222" stroke-width="0.25" stroke-linejoin="round"/>
<text x="167" y="56.79" font-size="7.2" fill="#5a4a44" text-anchor="middle" transform="rotate(-90 167 54.2)">A</text>
<text x="175.2" y="56.79" font-size="7.2" fill="#4a4a6a" text-anchor="middle" transform="rotate(-90 175.2 54.2)">H</text>
<rect x="328.7" y="42.4" width="36" height="22.9" fill="#e0eef9"/>
<rect x="364.7" y="51.2" width="43.3" height="5" fill="#e0eef9"/>
<line x1="364.7" y1="51.2" x2="408" y2="51.2" stroke="#555" stroke-width="0.6"/>
<line x1="364.7" y1="56.2" x2="408" y2="56.2" stroke="#222" stroke-width="0.9"/>
<path d="M408,50.05 C409,49.11 410.2,48.74 411.7,48.34 C413,47.85 414,47.25 415.5,47.25 L421.9,47.25 C423,47.25 424,48.14 424.4,49.33 C424.8,50.43 424.8,51.91 424.8,53.9 C424.8,56.38 424.6,57.87 423.5,59.06 C422.6,60.05 421.8,60.55 420.8,60.55 L415.5,60.55 C413.8,60.55 412.3,59.86 410.7,58.96 C409.8,58.58 408.9,57.96 408,57.65 Z" stroke="#333" stroke-width="0.8" fill="#e0eef9" />
<line x1="312.5" y1="42.4" x2="364.7" y2="42.4" stroke="#262626" stroke-width="0.75"/>
<line x1="312.5" y1="65.3" x2="364.7" y2="65.3" stroke="#262626" stroke-width="0.75"/>
<line x1="328.7" y1="42.4" x2="328.7" y2="65.3" stroke="#262626" stroke-width="0.75"/>
<line x1="364.7" y1="42.4" x2="364.7" y2="51.2" stroke="#262626" stroke-width="0.85"/>
<line x1="364.7" y1="56.2" x2="364.7" y2="65.3" stroke="#262626" stroke-width="0.85"/>
<line x1="321" y1="49.5" x2="344.5" y2="49.5" stroke="#444" stroke-width="0.6"/>
<line x1="321" y1="58.65" x2="344.5" y2="58.65" stroke="#444" stroke-width="0.6"/>
<path d="M336.5,42.7 C338.5,43.4 338.8,45.4 338.8,47.4 L338.8,60.3 C338.8,62.3 338.5,64.3 336.5,65" stroke="#1a1a1a" stroke-width="1.05" fill="none" />
<path d="M346,44.2 H357.7 L361.5,49.9 V58.4 L357.7,64.1 H346 A10.5,10.5 0 0 1 346,44.2 Z" stroke="#333" stroke-width="0.75" fill="none" />
<circle cx="349.5" cy="54.1" r="6.3" stroke="#141414" stroke-width="1.25" fill="#e0eef9"/>
<circle cx="349.5" cy="54.1" r="4.5" stroke="#222" stroke-width="0.95" fill="none" stroke-dasharray="1.7,0.6"/>
<circle cx="349.5" cy="54.1" r="2.4" stroke="#1a1a1a" stroke-width="1.0" fill="none"/>
<circle cx="349.5" cy="54.1" r="0.9" stroke="#555" stroke-width="0.5" fill="none"/>
<line x1="349.5" y1="38.9" x2="349.5" y2="68.6" stroke="#3a3a3a" stroke-width="0.6" stroke-dasharray="5,1.2,1,1.2"/>
<line x1="326" y1="54.1" x2="429" y2="54.1" stroke="#3a3a3a" stroke-width="0.6" stroke-dasharray="5,1.2,1,1.2"/>
<line x1="313.7" y1="42.4" x2="313.7" y2="65.3" stroke="#404040" stroke-width="0.6"/>
<path d="M313.7,42.4 L315.12,45.3 L313.7,44.49 L312.28,45.3 Z" fill="#222" stroke="#222" stroke-width="0.25" stroke-linejoin="round"/>
<path d="M313.7,65.3 L312.28,62.4 L313.7,63.21 L315.12,62.4 Z" fill="#222" stroke="#222" stroke-width="0.25" stroke-linejoin="round"/>
<line x1="322.6" y1="42.4" x2="322.6" y2="65.3" stroke="#2a2a2a" stroke-width="0.8"/>
<path d="M322.6,49.5 L321.18,46.6 L322.6,47.41 L324.02,46.6 Z" fill="#222" stroke="#222" stroke-width="0.25" stroke-linejoin="round"/>
<path d="M322.6,58.65 L324.02,61.55 L322.6,60.74 L321.18,61.55 Z" fill="#222" stroke="#222" stroke-width="0.25" stroke-linejoin="round"/>
<text x="309" y="56.69" font-size="7.2" fill="#5a4a44" text-anchor="middle" transform="rotate(-90 309 54.1)">A</text>
<text x="317.2" y="56.69" font-size="7.2" fill="#4a4a6a" text-anchor="middle" transform="rotate(-90 317.2 54.1)">H</text>
<rect x="187.1" y="186.6" width="36.65" height="22.9" fill="#e0eef9"/>
<rect x="223.75" y="196.25" width="44.5" height="5" fill="#e0eef9"/>
<line x1="223.75" y1="196.25" x2="268.25" y2="196.25" stroke="#555" stroke-width="0.6"/>
<line x1="223.75" y1="201.25" x2="268.25" y2="201.25" stroke="#222" stroke-width="0.9"/>
<path d="M268.25,194.35 C269.23,193.38 270.41,192.87 271.88,192.45 C273.16,191.93 274.14,191.3 275.62,191.3 L281.9,191.3 C282.98,191.3 283.96,192.24 284.36,193.49 C284.75,194.64 284.75,196.21 284.75,198.3 C284.75,200.91 284.55,202.48 283.47,203.73 C282.59,204.78 281.8,205.3 280.82,205.3 L275.62,205.3 C273.95,205.3 272.47,204.57 270.9,203.63 C270.02,203.11 269.13,202.47 268.25,202.15 Z" stroke="#333" stroke-width="0.8" fill="#e0eef9" />
<line x1="171.7" y1="186.6" x2="187.1" y2="186.6" stroke="#262626" stroke-width="0.75"/>
<line x1="171.7" y1="209.5" x2="187.1" y2="209.5" stroke="#262626" stroke-width="0.75"/>
<line x1="187.1" y1="186.6" x2="223.75" y2="186.6" stroke="#555" stroke-width="0.75"/>
<line x1="187.1" y1="209.5" x2="223.75" y2="209.5" stroke="#555" stroke-width="0.75"/>
<line x1="187.1" y1="186.6" x2="187.1" y2="209.5" stroke="#262626" stroke-width="0.8"/>
<line x1="223.75" y1="186.6" x2="223.75" y2="196.25" stroke="#555" stroke-width="0.8"/>
<line x1="223.75" y1="201.25" x2="223.75" y2="209.5" stroke="#555" stroke-width="0.8"/>
<path d="M177.9,177.45 L189.2,198.3 L177.9,219.15" stroke="#333" stroke-width="0.65" fill="none" />
<path d="M177.9,177.45 A23.72,23.72 0 0 0 177.9,219.15" stroke="#333" stroke-width="0.6" fill="none" />
<path d="M178.1,177.35 L175.85,180.34 L175.95,178.52 L174.37,177.61 Z" fill="#222" stroke="#222" stroke-width="0.25" stroke-linejoin="round"/>
<path d="M178.1,219.25 L174.37,218.99 L175.95,218.08 L175.85,216.26 Z" fill="#222" stroke="#222" stroke-width="0.25" stroke-linejoin="round"/>
<line x1="179.8" y1="193.25" x2="201.3" y2="193.25" stroke="#444" stroke-width="0.6"/>
<line x1="179.8" y1="203.25" x2="201.3" y2="203.25" stroke="#444" stroke-width="0.6"/>
<path d="M194.25,186.9 C196.25,187.6 196.55,189.6 196.55,191.6 L196.55,204.5 C196.55,206.5 196.25,208.5 194.25,209.2" stroke="#1a1a1a" stroke-width="1.05" fill="none" />
<path d="M208.3,188.75 H216.8 Q220.8,188.75 220.8,192.75 V205 Q220.8,209 216.8,209 H208.3 A10.1,10.1 0 0 1 208.3,188.75 Z" stroke="#444" stroke-width="0.6" fill="none" />
<circle cx="208.3" cy="198.3" r="6.6" stroke="#141414" stroke-width="1.25" fill="#e0eef9"/>
<circle cx="208.3" cy="198.3" r="4.8" stroke="#222" stroke-width="0.95" fill="none" stroke-dasharray="1.7,0.6"/>
<circle cx="208.3" cy="198.3" r="2.7" stroke="#1a1a1a" stroke-width="1.0" fill="none"/>
<circle cx="208.3" cy="198.3" r="0.9" stroke="#555" stroke-width="0.5" fill="none"/>
<line x1="208.3" y1="183.8" x2="208.3" y2="213.3" stroke="#3a3a3a" stroke-width="0.6" stroke-dasharray="5,1.2,1,1.2"/>
<line x1="183.2" y1="198.3" x2="287.5" y2="198.3" stroke="#3a3a3a" stroke-width="0.6" stroke-dasharray="5,1.2,1,1.2"/>
<line x1="172.5" y1="186.6" x2="172.5" y2="209.5" stroke="#404040" stroke-width="0.6"/>
<path d="M172.5,186.6 L173.92,189.5 L172.5,188.69 L171.08,189.5 Z" fill="#222" stroke="#222" stroke-width="0.25" stroke-linejoin="round"/>
<path d="M172.5,209.5 L171.08,206.6 L172.5,207.41 L173.92,206.6 Z" fill="#222" stroke="#222" stroke-width="0.25" stroke-linejoin="round"/>
<line x1="180.4" y1="186.6" x2="180.4" y2="209.5" stroke="#404040" stroke-width="0.6"/>
<path d="M180.4,193.25 L178.98,190.35 L180.4,191.16 L181.82,190.35 Z" fill="#222" stroke="#222" stroke-width="0.25" stroke-linejoin="round"/>
<path d="M180.4,203.25 L181.82,206.15 L180.4,205.34 L178.98,206.15 Z" fill="#222" stroke="#222" stroke-width="0.25" stroke-linejoin="round"/>
<text x="160.35" y="196.35" font-size="6.8" fill="#3b3333" text-anchor="middle" transform="rotate(-90 160.35 193.9)">120°</text>
<text x="168.75" y="200.59" font-size="7.2" fill="#3b3333" text-anchor="middle" transform="rotate(-90 168.75 198)">A</text>
<text x="176.25" y="200.59" font-size="7.2" fill="#3b3333" text-anchor="middle" transform="rotate(-90 176.25 198)">H</text>
<rect x="324.5" y="186.6" width="36.3" height="22.9" fill="#e0eef9"/>
<rect x="360.8" y="196.25" width="42.4" height="5" fill="#e0eef9"/>
<line x1="360.8" y1="196.25" x2="403.2" y2="196.25" stroke="#555" stroke-width="0.6"/>
<line x1="360.8" y1="201.25" x2="403.2" y2="201.25" stroke="#222" stroke-width="0.9"/>
<path d="M403.2,194.35 C404.24,193.38 405.49,192.87 407.05,192.45 C408.41,191.93 409.45,191.3 411.01,191.3 L417.68,191.3 C418.82,191.3 419.87,192.24 420.28,193.49 C420.7,194.64 420.7,196.21 420.7,198.3 C420.7,200.91 420.49,202.48 419.35,203.73 C418.41,204.78 417.57,205.3 416.53,205.3 L411.01,205.3 C409.24,205.3 407.68,204.57 406.01,203.63 C405.07,203.11 404.14,202.47 403.2,202.15 Z" stroke="#333" stroke-width="0.8" fill="#e0eef9" />
<line x1="309.1" y1="186.6" x2="324.5" y2="186.6" stroke="#262626" stroke-width="0.75"/>
<line x1="309.1" y1="209.5" x2="324.5" y2="209.5" stroke="#262626" stroke-width="0.75"/>
<line x1="324.5" y1="186.6" x2="360.8" y2="186.6" stroke="#555" stroke-width="0.75"/>
<line x1="324.5" y1="209.5" x2="360.8" y2="209.5" stroke="#555" stroke-width="0.75"/>
<line x1="324.5" y1="186.6" x2="324.5" y2="209.5" stroke="#262626" stroke-width="0.8"/>
<line x1="360.8" y1="186.6" x2="360.8" y2="196.25" stroke="#555" stroke-width="0.8"/>
<line x1="360.8" y1="201.25" x2="360.8" y2="209.5" stroke="#555" stroke-width="0.8"/>
<path d="M315.3,177.45 L326.6,198.3 L315.3,219.15" stroke="#333" stroke-width="0.65" fill="none" />
<path d="M315.3,177.45 A23.72,23.72 0 0 0 315.3,219.15" stroke="#333" stroke-width="0.6" fill="none" />
<path d="M315.5,177.35 L313.25,180.34 L313.35,178.52 L311.77,177.61 Z" fill="#222" stroke="#222" stroke-width="0.25" stroke-linejoin="round"/>
<path d="M315.5,219.25 L311.77,218.99 L313.35,218.08 L313.25,216.26 Z" fill="#222" stroke="#222" stroke-width="0.25" stroke-linejoin="round"/>
<line x1="317.2" y1="193.25" x2="337.6" y2="193.25" stroke="#444" stroke-width="0.6"/>
<line x1="317.2" y1="203.25" x2="337.6" y2="203.25" stroke="#444" stroke-width="0.6"/>
<path d="M331.54,186.9 C333.54,187.6 333.84,189.6 333.84,191.6 L333.84,204.5 C333.84,206.5 333.54,208.5 331.54,209.2" stroke="#1a1a1a" stroke-width="1.05" fill="none" />
<path d="M344.6,188.75 H353.1 Q357.1,188.75 357.1,192.75 V205 Q357.1,209 353.1,209 H344.6 A10.1,10.1 0 0 1 344.6,188.75 Z" stroke="#444" stroke-width="0.6" fill="none" />
<circle cx="344.6" cy="198.3" r="6.6" stroke="#141414" stroke-width="1.25" fill="#e0eef9"/>
<circle cx="344.6" cy="198.3" r="4.8" stroke="#222" stroke-width="0.95" fill="none" stroke-dasharray="1.7,0.6"/>
<circle cx="344.6" cy="198.3" r="2.7" stroke="#1a1a1a" stroke-width="1.0" fill="none"/>
<circle cx="344.6" cy="198.3" r="0.9" stroke="#555" stroke-width="0.5" fill="none"/>
<line x1="344.6" y1="183.8" x2="344.6" y2="213.3" stroke="#3a3a3a" stroke-width="0.6" stroke-dasharray="5,1.2,1,1.2"/>
<line x1="320.6" y1="198.3" x2="424.8" y2="198.3" stroke="#3a3a3a" stroke-width="0.6" stroke-dasharray="5,1.2,1,1.2"/>
<line x1="309.9" y1="186.6" x2="309.9" y2="209.5" stroke="#404040" stroke-width="0.6"/>
<path d="M309.9,186.6 L311.32,189.5 L309.9,188.69 L308.48,189.5 Z" fill="#222" stroke="#222" stroke-width="0.25" stroke-linejoin="round"/>
<path d="M309.9,209.5 L308.48,206.6 L309.9,207.41 L311.32,206.6 Z" fill="#222" stroke="#222" stroke-width="0.25" stroke-linejoin="round"/>
<line x1="317.8" y1="186.6" x2="317.8" y2="209.5" stroke="#404040" stroke-width="0.6"/>
<path d="M317.8,193.25 L316.38,190.35 L317.8,191.16 L319.22,190.35 Z" fill="#222" stroke="#222" stroke-width="0.25" stroke-linejoin="round"/>
<path d="M317.8,203.25 L319.22,206.15 L317.8,205.34 L316.38,206.15 Z" fill="#222" stroke="#222" stroke-width="0.25" stroke-linejoin="round"/>
<text x="297.75" y="196.35" font-size="6.8" fill="#3b3333" text-anchor="middle" transform="rotate(-90 297.75 193.9)">120°</text>
<text x="305.05" y="200.59" font-size="7.2" fill="#3b3333" text-anchor="middle" transform="rotate(-90 305.05 198)">A</text>
<text x="312.55" y="200.59" font-size="7.2" fill="#3b3333" text-anchor="middle" transform="rotate(-90 312.55 198)">H</text>
<rect x="196.25" y="98.75" width="23.35" height="6.25" fill="#e0eef9"/>
<path d="M188.6,105 H222.3 V113.3 H189.5 Z" stroke="none" stroke-width="0" fill="#e0eef9" />
<path d="M186.6,95 L196.25,95 L196.25,105 L188.6,105.5 C187.2,103 186.8,100 186.6,95 Z" stroke="none" stroke-width="0" fill="#e0eef9" />
<rect x="204.4" y="91.3" width="5.2" height="3" fill="#e0eef9"/>
<rect x="201.9" y="94.3" width="10.8" height="4.45" stroke="#666" stroke-width="0.6" fill="#e0eef9"/>
<line x1="201.9" y1="94.3" x2="212.7" y2="94.3" stroke="#222" stroke-width="0.85"/>
<line x1="204.4" y1="91.3" x2="209.6" y2="91.3" stroke="#222" stroke-width="0.8"/>
<line x1="204.6" y1="91.3" x2="204.6" y2="98.75" stroke="#222" stroke-width="0.8"/>
<line x1="207.3" y1="91.3" x2="207.3" y2="98.75" stroke="#222" stroke-width="0.8"/>
<line x1="209.4" y1="91.3" x2="209.4" y2="98.75" stroke="#222" stroke-width="0.8"/>
<line x1="196.25" y1="98.75" x2="219.6" y2="98.75" stroke="#262626" stroke-width="0.7"/>
<line x1="196.25" y1="105" x2="222.3" y2="105" stroke="#444" stroke-width="0.6"/>
<line x1="219.6" y1="98.75" x2="219.6" y2="105" stroke="#444" stroke-width="0.6"/>
<line x1="222.3" y1="86.5" x2="222.3" y2="113.3" stroke="#262626" stroke-width="0.8"/>
<path d="M186.6,95 C186.8,100 187.2,103 188.6,105.5 L189.5,113.3" stroke="#222" stroke-width="0.8" fill="none" />
<path d="M186.7,95 H196.25 V105" stroke="#262626" stroke-width="0.7" fill="none" />
<path d="M193.6,95.5 C194.4,98 194.4,102 193.6,104.5" stroke="#333" stroke-width="0.8" fill="none" />
<circle cx="192" cy="108.3" r="1.1" stroke="#222" stroke-width="0.8" fill="none"/>
<line x1="193.1" y1="107.2" x2="193.1" y2="109.5" stroke="#222" stroke-width="0.65"/>
<rect x="204.3" y="113.3" width="5.6" height="8" fill="#e0eef9"/>
<line x1="204.3" y1="113.3" x2="204.3" y2="121.3" stroke="#444" stroke-width="0.6"/>
<line x1="209.9" y1="113.3" x2="209.9" y2="121.3" stroke="#444" stroke-width="0.6"/>
<line x1="204.3" y1="116" x2="209.9" y2="116" stroke="#666" stroke-width="0.4"/>
<line x1="204.3" y1="118.4" x2="209.9" y2="118.4" stroke="#666" stroke-width="0.4"/>
<rect x="205" y="121.3" width="4.2" height="5.2" fill="#e0eef9"/>
<line x1="205" y1="121.3" x2="205" y2="126.5" stroke="#444" stroke-width="0.6"/>
<line x1="209.2" y1="121.3" x2="209.2" y2="126.5" stroke="#444" stroke-width="0.6"/>
<line x1="202.3" y1="121.3" x2="202.3" y2="138.4" stroke="#555" stroke-width="0.6"/>
<line x1="211.6" y1="121.3" x2="211.6" y2="138.4" stroke="#1a1a1a" stroke-width="0.95"/>
<line x1="207.5" y1="78.5" x2="207.5" y2="130" stroke="#3a3a3a" stroke-width="0.55" stroke-dasharray="4,1,1,1"/>
<line x1="174.6" y1="80.4" x2="207.5" y2="80.4" stroke="#333" stroke-width="0.6"/>
<path d="M186.5,80.4 L183.6,81.82 L184.41,80.4 L183.6,78.98 Z" fill="#222" stroke="#222" stroke-width="0.25" stroke-linejoin="round"/>
<path d="M188.3,80.4 L191.2,78.98 L190.39,80.4 L191.2,81.82 Z" fill="#222" stroke="#222" stroke-width="0.25" stroke-linejoin="round"/>
<path d="M207.3,80.4 L204.4,81.82 L205.21,80.4 L204.4,78.98 Z" fill="#222" stroke="#222" stroke-width="0.25" stroke-linejoin="round"/>
<path d="M207.7,80.4 L210.6,78.98 L209.79,80.4 L210.6,81.82 Z" fill="#222" stroke="#222" stroke-width="0.25" stroke-linejoin="round"/>
<line x1="186.5" y1="78.6" x2="186.5" y2="95" stroke="#404040" stroke-width="0.6"/>
<line x1="188.3" y1="78.6" x2="188.3" y2="94" stroke="#404040" stroke-width="0.6"/>
<line x1="207.5" y1="88.5" x2="222.3" y2="88.5" stroke="#404040" stroke-width="0.6"/>
<path d="M207.6,88.5 L209.8,87.42 L209.18,88.5 L209.8,89.58 Z" fill="#222" stroke="#222" stroke-width="0.25" stroke-linejoin="round"/>
<path d="M222.2,88.5 L220,89.58 L220.62,88.5 L220,87.42 Z" fill="#222" stroke="#222" stroke-width="0.25" stroke-linejoin="round"/>
<line x1="188.8" y1="88.5" x2="197.5" y2="88.5" stroke="#404040" stroke-width="0.6"/>
<line x1="197.5" y1="88.5" x2="202.6" y2="92.5" stroke="#333" stroke-width="0.7"/>
<path d="M202.8,92.5 L199.23,91.62 L200.98,90.97 L201.31,89.14 Z" fill="#222" stroke="#222" stroke-width="0.25" stroke-linejoin="round"/>
<line x1="170.5" y1="91.3" x2="201.3" y2="91.3" stroke="#222" stroke-width="0.65"/>
<line x1="171" y1="91.3" x2="171" y2="132.5" stroke="#404040" stroke-width="0.6"/>
<path d="M171,91.3 L172.42,94.2 L171,93.39 L169.58,94.2 Z" fill="#222" stroke="#222" stroke-width="0.25" stroke-linejoin="round"/>
<path d="M171,121.3 L169.58,118.4 L171,119.21 L172.42,118.4 Z" fill="#222" stroke="#222" stroke-width="0.25" stroke-linejoin="round"/>
<line x1="179.3" y1="94.2" x2="186.5" y2="94.2" stroke="#404040" stroke-width="0.6"/>
<line x1="180.2" y1="94.2" x2="180.2" y2="113.3" stroke="#404040" stroke-width="0.6"/>
<path d="M180.2,94.4 L181.62,97.3 L180.2,96.49 L178.78,97.3 Z" fill="#222" stroke="#222" stroke-width="0.25" stroke-linejoin="round"/>
<path d="M180.2,112.2 L178.78,109.3 L180.2,110.11 L181.62,109.3 Z" fill="#222" stroke="#222" stroke-width="0.25" stroke-linejoin="round"/>
<line x1="170.5" y1="121.5" x2="202.4" y2="121.5" stroke="#404040" stroke-width="0.6"/>
<line x1="170.5" y1="124.3" x2="211.8" y2="124.3" stroke="#1e1e1e" stroke-width="0.85"/>
<path d="M171,124.3 L172.42,126.5 L171,125.88 L169.58,126.5 Z" fill="#222" stroke="#222" stroke-width="0.25" stroke-linejoin="round"/>
<line x1="196.8" y1="130.3" x2="225" y2="130.3" stroke="#404040" stroke-width="0.6"/>
<path d="M202.4,130.3 L199.5,131.72 L200.31,130.3 L199.5,128.88 Z" fill="#222" stroke="#222" stroke-width="0.25" stroke-linejoin="round"/>
<path d="M211.8,130.3 L214.7,128.88 L213.89,130.3 L214.7,131.72 Z" fill="#222" stroke="#222" stroke-width="0.25" stroke-linejoin="round"/>
<line x1="196.8" y1="138.4" x2="225" y2="138.4" stroke="#404040" stroke-width="0.6"/>
<path d="M202.5,138.4 L199.6,139.82 L200.41,138.4 L199.6,136.98 Z" fill="#222" stroke="#222" stroke-width="0.25" stroke-linejoin="round"/>
<path d="M211.7,138.4 L214.6,136.98 L213.79,138.4 L214.6,139.82 Z" fill="#222" stroke="#222" stroke-width="0.25" stroke-linejoin="round"/>
<text x="177.3" y="79.39" font-size="7.2" fill="#3b3333" text-anchor="middle">E</text>
<text x="197.5" y="79.39" font-size="7.2" fill="#3b3333" text-anchor="middle">F</text>
<text x="216.3" y="87.19" font-size="7.2" fill="#3b3333" text-anchor="middle">D</text>
<text x="193.4" y="87.39" font-size="7.2" fill="#34466e" text-anchor="middle">M</text>
<line x1="164" y1="106" x2="168.9" y2="106" stroke="#333" stroke-width="0.75"/>
<text x="175.3" y="106.39" font-size="7.2" fill="#3b3333" text-anchor="middle" transform="rotate(-90 175.3 103.8)">B</text>
<text x="167.3" y="125.09" font-size="7.2" fill="#3b3333" text-anchor="middle" transform="rotate(-90 167.3 122.5)">J</text>
<text x="221.3" y="129.89" font-size="7.2" fill="#34466e" text-anchor="middle">K</text>
<text x="222" y="137.79" font-size="7.2" fill="#34466e" text-anchor="middle">L</text>
<rect x="219.6" y="99.3" width="47.7" height="5.1" fill="#e0eef9"/>
<line x1="219.6" y1="99.3" x2="267.3" y2="99.3" stroke="#555" stroke-width="0.6"/>
<line x1="219.6" y1="104.4" x2="267.3" y2="104.4" stroke="#222" stroke-width="0.9"/>
<path d="M267.1,98.3 C268.3,96.8 269.9,95.9 271.7,95.6 C274.1,95.1 277.5,95 283.3,95.2 C283.7,97 283.8,100 283.5,103 C283.1,106.5 281.6,109.2 279.2,109.2 C277.1,109.2 275.1,108.8 273.3,108.3 C270.9,107.6 268.6,106.3 267.1,105.4 Z" stroke="#333" stroke-width="0.8" fill="#e0eef9" />
<line x1="179.3" y1="113.3" x2="294" y2="113.3" stroke="#262626" stroke-width="0.8"/>
<line x1="207.5" y1="80.4" x2="283.3" y2="80.4" stroke="#404040" stroke-width="0.55"/>
<path d="M283.3,80.4 L280.4,81.82 L281.21,80.4 L280.4,78.98 Z" fill="#222" stroke="#222" stroke-width="0.25" stroke-linejoin="round"/>
<line x1="283.3" y1="78.6" x2="283.3" y2="95" stroke="#404040" stroke-width="0.6"/>
<line x1="283" y1="95" x2="293.8" y2="95" stroke="#404040" stroke-width="0.6"/>
<line x1="292.9" y1="95" x2="292.9" y2="113.3" stroke="#404040" stroke-width="0.6"/>
<path d="M292.9,95.2 L294.32,98.1 L292.9,97.29 L291.48,98.1 Z" fill="#222" stroke="#222" stroke-width="0.25" stroke-linejoin="round"/>
<path d="M292.9,113.1 L291.48,110.2 L292.9,111.01 L294.32,110.2 Z" fill="#222" stroke="#222" stroke-width="0.25" stroke-linejoin="round"/>
<text x="246" y="79.19" font-size="7.2" fill="#3b3333" text-anchor="middle">C</text>
<text x="288.3" y="106.59" font-size="7.2" fill="#3b3333" text-anchor="middle" transform="rotate(-90 288.3 104)">G</text>
<rect x="336.25" y="110.75" width="23.35" height="6.25" fill="#e0eef9"/>
<path d="M328.6,117 H362.3 V125.3 H329.5 Z" stroke="none" stroke-width="0" fill="#e0eef9" />
<path d="M326.6,107 L336.25,107 L336.25,117 L328.6,117.5 C327.2,115 326.8,112 326.6,107 Z" stroke="none" stroke-width="0" fill="#e0eef9" />
<rect x="344.4" y="103.3" width="5.2" height="3" fill="#e0eef9"/>
<rect x="341.9" y="106.3" width="10.8" height="4.45" stroke="#666" stroke-width="0.6" fill="#e0eef9"/>
<line x1="341.9" y1="106.3" x2="352.7" y2="106.3" stroke="#222" stroke-width="0.85"/>
<line x1="344.4" y1="103.3" x2="349.6" y2="103.3" stroke="#222" stroke-width="0.8"/>
<line x1="344.6" y1="103.3" x2="344.6" y2="110.75" stroke="#222" stroke-width="0.8"/>
<line x1="347.3" y1="103.3" x2="347.3" y2="110.75" stroke="#222" stroke-width="0.8"/>
<line x1="349.4" y1="103.3" x2="349.4" y2="110.75" stroke="#222" stroke-width="0.8"/>
<line x1="336.25" y1="110.75" x2="359.6" y2="110.75" stroke="#262626" stroke-width="0.7"/>
<line x1="336.25" y1="117" x2="362.3" y2="117" stroke="#444" stroke-width="0.6"/>
<line x1="359.6" y1="110.75" x2="359.6" y2="117" stroke="#444" stroke-width="0.6"/>
<line x1="362.3" y1="96.5" x2="362.3" y2="125.3" stroke="#262626" stroke-width="0.8"/>
<path d="M326.6,107 C326.8,112 327.2,115 328.6,117.5 L329.5,125.3" stroke="#222" stroke-width="0.8" fill="none" />
<path d="M326.7,107 H336.25 V117" stroke="#262626" stroke-width="0.7" fill="none" />
<path d="M333.6,107.5 C334.4,110 334.4,114 333.6,116.5" stroke="#333" stroke-width="0.8" fill="none" />
<circle cx="332" cy="120.3" r="1.1" stroke="#222" stroke-width="0.8" fill="none"/>
<line x1="333.1" y1="119.2" x2="333.1" y2="121.5" stroke="#222" stroke-width="0.65"/>
<rect x="344.3" y="125.3" width="5.6" height="8" fill="#e0eef9"/>
<line x1="344.3" y1="125.3" x2="344.3" y2="133.3" stroke="#444" stroke-width="0.6"/>
<line x1="349.9" y1="125.3" x2="349.9" y2="133.3" stroke="#444" stroke-width="0.6"/>
<line x1="344.3" y1="128" x2="349.9" y2="128" stroke="#666" stroke-width="0.4"/>
<line x1="344.3" y1="130.4" x2="349.9" y2="130.4" stroke="#666" stroke-width="0.4"/>
<rect x="345" y="133.3" width="4.2" height="5.2" fill="#e0eef9"/>
<line x1="345" y1="133.3" x2="345" y2="138.5" stroke="#444" stroke-width="0.6"/>
<line x1="349.2" y1="133.3" x2="349.2" y2="138.5" stroke="#444" stroke-width="0.6"/>
<line x1="342.3" y1="133.3" x2="342.3" y2="150.4" stroke="#555" stroke-width="0.6"/>
<line x1="351.6" y1="133.3" x2="351.6" y2="150.4" stroke="#1a1a1a" stroke-width="0.95"/>
<line x1="347.5" y1="88.5" x2="347.5" y2="142" stroke="#3a3a3a" stroke-width="0.55" stroke-dasharray="4,1,1,1"/>
<line x1="314.6" y1="90.4" x2="347.5" y2="90.4" stroke="#333" stroke-width="0.6"/>
<path d="M326.5,90.4 L323.6,91.82 L324.41,90.4 L323.6,88.98 Z" fill="#222" stroke="#222" stroke-width="0.25" stroke-linejoin="round"/>
<path d="M328.3,90.4 L331.2,88.98 L330.39,90.4 L331.2,91.82 Z" fill="#222" stroke="#222" stroke-width="0.25" stroke-linejoin="round"/>
<path d="M347.3,90.4 L344.4,91.82 L345.21,90.4 L344.4,88.98 Z" fill="#222" stroke="#222" stroke-width="0.25" stroke-linejoin="round"/>
<path d="M347.7,90.4 L350.6,88.98 L349.79,90.4 L350.6,91.82 Z" fill="#222" stroke="#222" stroke-width="0.25" stroke-linejoin="round"/>
<line x1="326.5" y1="88.6" x2="326.5" y2="107" stroke="#404040" stroke-width="0.6"/>
<line x1="328.3" y1="88.6" x2="328.3" y2="104" stroke="#404040" stroke-width="0.6"/>
<line x1="347.5" y1="98.5" x2="362.3" y2="98.5" stroke="#404040" stroke-width="0.6"/>
<path d="M347.6,98.5 L349.8,97.42 L349.18,98.5 L349.8,99.58 Z" fill="#222" stroke="#222" stroke-width="0.25" stroke-linejoin="round"/>
<path d="M362.2,98.5 L360,99.58 L360.62,98.5 L360,97.42 Z" fill="#222" stroke="#222" stroke-width="0.25" stroke-linejoin="round"/>
<line x1="328.8" y1="98.5" x2="337.5" y2="98.5" stroke="#404040" stroke-width="0.6"/>
<line x1="337.5" y1="98.5" x2="342.6" y2="104.5" stroke="#333" stroke-width="0.7"/>
<path d="M342.8,104.5 L339.23,103.62 L340.98,102.97 L341.31,101.14 Z" fill="#222" stroke="#222" stroke-width="0.25" stroke-linejoin="round"/>
<line x1="310.5" y1="103.3" x2="341.3" y2="103.3" stroke="#222" stroke-width="0.65"/>
<line x1="311" y1="103.3" x2="311" y2="144.5" stroke="#404040" stroke-width="0.6"/>
<path d="M311,103.3 L312.42,106.2 L311,105.39 L309.58,106.2 Z" fill="#222" stroke="#222" stroke-width="0.25" stroke-linejoin="round"/>
<path d="M311,133.3 L309.58,130.4 L311,131.21 L312.42,130.4 Z" fill="#222" stroke="#222" stroke-width="0.25" stroke-linejoin="round"/>
<line x1="319.3" y1="106.2" x2="326.5" y2="106.2" stroke="#404040" stroke-width="0.6"/>
<line x1="320.2" y1="106.2" x2="320.2" y2="125.3" stroke="#404040" stroke-width="0.6"/>
<path d="M320.2,106.4 L321.62,109.3 L320.2,108.49 L318.78,109.3 Z" fill="#222" stroke="#222" stroke-width="0.25" stroke-linejoin="round"/>
<path d="M320.2,124.2 L318.78,121.3 L320.2,122.11 L321.62,121.3 Z" fill="#222" stroke="#222" stroke-width="0.25" stroke-linejoin="round"/>
<line x1="310.5" y1="133.5" x2="342.4" y2="133.5" stroke="#404040" stroke-width="0.6"/>
<line x1="310.5" y1="136.3" x2="351.8" y2="136.3" stroke="#1e1e1e" stroke-width="0.85"/>
<path d="M311,136.3 L312.42,138.5 L311,137.88 L309.58,138.5 Z" fill="#222" stroke="#222" stroke-width="0.25" stroke-linejoin="round"/>
<line x1="336.8" y1="142.3" x2="365" y2="142.3" stroke="#404040" stroke-width="0.6"/>
<path d="M342.4,142.3 L339.5,143.72 L340.31,142.3 L339.5,140.88 Z" fill="#222" stroke="#222" stroke-width="0.25" stroke-linejoin="round"/>
<path d="M351.8,142.3 L354.7,140.88 L353.89,142.3 L354.7,143.72 Z" fill="#222" stroke="#222" stroke-width="0.25" stroke-linejoin="round"/>
<line x1="336.8" y1="150.4" x2="365" y2="150.4" stroke="#404040" stroke-width="0.6"/>
<path d="M342.5,150.4 L339.6,151.82 L340.41,150.4 L339.6,148.98 Z" fill="#222" stroke="#222" stroke-width="0.25" stroke-linejoin="round"/>
<path d="M351.7,150.4 L354.6,148.98 L353.79,150.4 L354.6,151.82 Z" fill="#222" stroke="#222" stroke-width="0.25" stroke-linejoin="round"/>
<text x="317.3" y="89.39" font-size="7.2" fill="#3b3333" text-anchor="middle">E</text>
<text x="337.5" y="89.39" font-size="7.2" fill="#3b3333" text-anchor="middle">F</text>
<text x="356.3" y="97.19" font-size="7.2" fill="#3b3333" text-anchor="middle">D</text>
<text x="333.4" y="97.39" font-size="7.2" fill="#34466e" text-anchor="middle">M</text>
<line x1="304" y1="118" x2="308.9" y2="118" stroke="#333" stroke-width="0.75"/>
<text x="315.3" y="118.39" font-size="7.2" fill="#3b3333" text-anchor="middle" transform="rotate(-90 315.3 115.8)">B</text>
<text x="307.3" y="137.09" font-size="7.2" fill="#3b3333" text-anchor="middle" transform="rotate(-90 307.3 134.5)">J</text>
<text x="361.3" y="141.89" font-size="7.2" fill="#34466e" text-anchor="middle">K</text>
<text x="362" y="149.79" font-size="7.2" fill="#34466e" text-anchor="middle">L</text>
<path d="M359.2,111.3 L364,111.2 Q369.5,110.6 372,110.2 L404.8,102.2 L405.5,107.7 L373,116 Q366,116.8 359.2,116.8 Z" stroke="#333" stroke-width="0.7" fill="#e0eef9" />
<path d="M404.6,101.7 C405.13,100.62 406.92,99.3 408.5,98.2 C410.08,97.1 412.47,95.62 414.1,95.1 C415.73,94.58 417.13,94.7 418.3,95.1 C419.47,95.5 420.47,96.28 421.1,97.5 C421.73,98.72 422.22,100.93 422.1,102.4 C421.98,103.87 421.27,105.3 420.4,106.3 C419.53,107.3 418.42,108 416.9,108.4 C415.38,108.8 412.82,108.77 411.3,108.7 C409.78,108.63 408.57,108.17 407.8,108 C407.03,107.83 407.12,108.25 406.7,107.7 C406.28,107.15 405.65,105.7 405.3,104.7 C404.95,103.7 404.07,102.78 404.6,101.7 Z" stroke="#333" stroke-width="0.8" fill="#e0eef9" />
<line x1="319.3" y1="125.3" x2="433.6" y2="125.3" stroke="#262626" stroke-width="0.8"/>
<line x1="314.6" y1="90.4" x2="422.3" y2="90.4" stroke="#1e1e1e" stroke-width="0.95"/>
<path d="M422.3,90.4 L419.4,91.82 L420.21,90.4 L419.4,88.98 Z" fill="#222" stroke="#222" stroke-width="0.25" stroke-linejoin="round"/>
<line x1="422.1" y1="88.6" x2="422.1" y2="99" stroke="#222" stroke-width="0.8"/>
<line x1="418.3" y1="95.1" x2="433.7" y2="95.1" stroke="#333" stroke-width="0.75"/>
<line x1="432.3" y1="95.1" x2="432.3" y2="125.3" stroke="#404040" stroke-width="0.6"/>
<path d="M432.3,95.3 L433.72,98.2 L432.3,97.39 L430.88,98.2 Z" fill="#222" stroke="#222" stroke-width="0.25" stroke-linejoin="round"/>
<path d="M432.3,125.1 L430.88,122.2 L432.3,123.01 L433.72,122.2 Z" fill="#222" stroke="#222" stroke-width="0.25" stroke-linejoin="round"/>
<text x="386" y="89.19" font-size="7.2" fill="#3b3333" text-anchor="middle">C</text>
<text x="428.4" y="112.39" font-size="7.2" fill="#3b3333" text-anchor="middle" transform="rotate(-90 428.4 109.8)">G</text>
<rect x="196.95" y="252.95" width="23.35" height="6.25" fill="#e0eef9"/>
<path d="M189.3,259.2 H223 V267.5 H190.2 Z" stroke="none" stroke-width="0" fill="#e0eef9" />
<path d="M187.3,249.2 L196.95,249.2 L196.95,259.2 L189.3,259.7 C187.9,257.2 187.5,254.2 187.3,249.2 Z" stroke="none" stroke-width="0" fill="#e0eef9" />
<rect x="205.1" y="245.5" width="5.2" height="3" fill="#e0eef9"/>
<rect x="202.6" y="248.5" width="10.8" height="4.45" stroke="#666" stroke-width="0.6" fill="#e0eef9"/>
<line x1="202.6" y1="248.5" x2="213.4" y2="248.5" stroke="#222" stroke-width="0.85"/>
<line x1="205.1" y1="245.5" x2="210.3" y2="245.5" stroke="#222" stroke-width="0.8"/>
<line x1="205.3" y1="245.5" x2="205.3" y2="252.95" stroke="#222" stroke-width="0.8"/>
<line x1="208" y1="245.5" x2="208" y2="252.95" stroke="#222" stroke-width="0.8"/>
<line x1="210.1" y1="245.5" x2="210.1" y2="252.95" stroke="#222" stroke-width="0.8"/>
<line x1="196.95" y1="252.95" x2="220.3" y2="252.95" stroke="#262626" stroke-width="0.7"/>
<line x1="196.95" y1="259.2" x2="223" y2="259.2" stroke="#444" stroke-width="0.6"/>
<line x1="220.3" y1="252.95" x2="220.3" y2="259.2" stroke="#444" stroke-width="0.6"/>
<line x1="223" y1="240.7" x2="223" y2="267.5" stroke="#262626" stroke-width="0.8"/>
<path d="M187.3,249.2 C187.5,254.2 187.9,257.2 189.3,259.7 L190.2,267.5" stroke="#222" stroke-width="0.8" fill="none" />
<path d="M187.4,249.2 H196.95 V259.2" stroke="#262626" stroke-width="0.7" fill="none" />
<path d="M190,249.8 H195.7 Q196.8,249.8 196.8,251 V258 Q196.8,259.2 195.7,259.2 H190.3 Q189.2,259.2 189.2,258 V251 Q189.2,249.8 190,249.8 Z" stroke="#3a3a3a" stroke-width="0.75" fill="none" />
<circle cx="192.7" cy="262.5" r="1.1" stroke="#222" stroke-width="0.8" fill="none"/>
<line x1="193.8" y1="261.4" x2="193.8" y2="263.7" stroke="#222" stroke-width="0.65"/>
<rect x="205" y="267.5" width="5.6" height="8" fill="#e0eef9"/>
<line x1="205" y1="267.5" x2="205" y2="275.5" stroke="#444" stroke-width="0.6"/>
<line x1="210.6" y1="267.5" x2="210.6" y2="275.5" stroke="#444" stroke-width="0.6"/>
<line x1="205" y1="270.2" x2="210.6" y2="270.2" stroke="#666" stroke-width="0.4"/>
<line x1="205" y1="272.6" x2="210.6" y2="272.6" stroke="#666" stroke-width="0.4"/>
<rect x="205.7" y="275.5" width="4.2" height="5.2" fill="#e0eef9"/>
<line x1="205.7" y1="275.5" x2="205.7" y2="280.7" stroke="#444" stroke-width="0.6"/>
<line x1="209.9" y1="275.5" x2="209.9" y2="280.7" stroke="#444" stroke-width="0.6"/>
<rect x="203.4" y="275.5" width="9.1" height="9" fill="#e0eef9"/>
<line x1="203.4" y1="275.5" x2="212.5" y2="275.5" stroke="#666" stroke-width="0.5"/>
<line x1="203.4" y1="275.5" x2="203.4" y2="292.8" stroke="#555" stroke-width="0.6"/>
<line x1="212.5" y1="275.5" x2="212.5" y2="292.8" stroke="#555" stroke-width="0.6"/>
<line x1="205.9" y1="273.2" x2="205.9" y2="285.5" stroke="#1a1a1a" stroke-width="1.1"/>
<line x1="210.3" y1="275.5" x2="210.3" y2="284.5" stroke="#666" stroke-width="0.5"/>
<line x1="208.2" y1="232.7" x2="208.2" y2="284.2" stroke="#3a3a3a" stroke-width="0.55" stroke-dasharray="4,1,1,1"/>
<line x1="175.3" y1="234.6" x2="208.2" y2="234.6" stroke="#333" stroke-width="0.6"/>
<path d="M187.2,234.6 L184.3,236.02 L185.11,234.6 L184.3,233.18 Z" fill="#222" stroke="#222" stroke-width="0.25" stroke-linejoin="round"/>
<path d="M189,234.6 L191.9,233.18 L191.09,234.6 L191.9,236.02 Z" fill="#222" stroke="#222" stroke-width="0.25" stroke-linejoin="round"/>
<path d="M208,234.6 L205.1,236.02 L205.91,234.6 L205.1,233.18 Z" fill="#222" stroke="#222" stroke-width="0.25" stroke-linejoin="round"/>
<path d="M208.4,234.6 L211.3,233.18 L210.49,234.6 L211.3,236.02 Z" fill="#222" stroke="#222" stroke-width="0.25" stroke-linejoin="round"/>
<line x1="187.2" y1="232.8" x2="187.2" y2="249.2" stroke="#404040" stroke-width="0.6"/>
<line x1="189" y1="232.8" x2="189" y2="248.2" stroke="#404040" stroke-width="0.6"/>
<line x1="208.2" y1="242.7" x2="223" y2="242.7" stroke="#404040" stroke-width="0.6"/>
<path d="M208.3,242.7 L210.5,241.62 L209.88,242.7 L210.5,243.78 Z" fill="#222" stroke="#222" stroke-width="0.25" stroke-linejoin="round"/>
<path d="M222.9,242.7 L220.7,243.78 L221.32,242.7 L220.7,241.62 Z" fill="#222" stroke="#222" stroke-width="0.25" stroke-linejoin="round"/>
<line x1="189.5" y1="242.7" x2="198.2" y2="242.7" stroke="#404040" stroke-width="0.6"/>
<line x1="198.2" y1="242.7" x2="203.3" y2="246.7" stroke="#333" stroke-width="0.7"/>
<path d="M203.5,246.7 L199.93,245.82 L201.68,245.17 L202.01,243.34 Z" fill="#222" stroke="#222" stroke-width="0.25" stroke-linejoin="round"/>
<line x1="171.2" y1="245.5" x2="210.3" y2="245.5" stroke="#222" stroke-width="0.9"/>
<line x1="171.7" y1="245.5" x2="171.7" y2="286.7" stroke="#404040" stroke-width="0.6"/>
<path d="M171.7,245.5 L173.12,248.4 L171.7,247.59 L170.28,248.4 Z" fill="#222" stroke="#222" stroke-width="0.25" stroke-linejoin="round"/>
<path d="M171.7,275.5 L170.28,272.6 L171.7,273.41 L173.12,272.6 Z" fill="#222" stroke="#222" stroke-width="0.25" stroke-linejoin="round"/>
<line x1="180" y1="248.4" x2="187.2" y2="248.4" stroke="#404040" stroke-width="0.6"/>
<line x1="180.9" y1="248.4" x2="180.9" y2="267.5" stroke="#404040" stroke-width="0.6"/>
<path d="M180.9,248.6 L182.32,251.5 L180.9,250.69 L179.48,251.5 Z" fill="#222" stroke="#222" stroke-width="0.25" stroke-linejoin="round"/>
<path d="M180.9,266.4 L179.48,263.5 L180.9,264.31 L182.32,263.5 Z" fill="#222" stroke="#222" stroke-width="0.25" stroke-linejoin="round"/>
<line x1="171.2" y1="275.7" x2="203.1" y2="275.7" stroke="#404040" stroke-width="0.6"/>
<line x1="171.2" y1="278.5" x2="203.4" y2="278.5" stroke="#444" stroke-width="0.7"/>
<path d="M171.7,278.5 L173.12,280.7 L171.7,280.08 L170.28,280.7 Z" fill="#222" stroke="#222" stroke-width="0.25" stroke-linejoin="round"/>
<line x1="197.5" y1="284.5" x2="225.7" y2="284.5" stroke="#1e1e1e" stroke-width="1.0"/>
<path d="M203.1,284.5 L200.2,285.92 L201.01,284.5 L200.2,283.08 Z" fill="#222" stroke="#222" stroke-width="0.25" stroke-linejoin="round"/>
<path d="M212.5,284.5 L215.4,283.08 L214.59,284.5 L215.4,285.92 Z" fill="#222" stroke="#222" stroke-width="0.25" stroke-linejoin="round"/>
<line x1="197.5" y1="292.6" x2="225.7" y2="292.6" stroke="#404040" stroke-width="0.6"/>
<path d="M203.2,292.6 L200.3,294.02 L201.11,292.6 L200.3,291.18 Z" fill="#222" stroke="#222" stroke-width="0.25" stroke-linejoin="round"/>
<path d="M212.4,292.6 L215.3,291.18 L214.49,292.6 L215.3,294.02 Z" fill="#222" stroke="#222" stroke-width="0.25" stroke-linejoin="round"/>
<text x="178" y="233.59" font-size="7.2" fill="#3b3333" text-anchor="middle">E</text>
<text x="198.2" y="233.59" font-size="7.2" fill="#3b3333" text-anchor="middle">F</text>
<text x="217" y="241.39" font-size="7.2" fill="#3b3333" text-anchor="middle">D</text>
<text x="194.1" y="241.59" font-size="7.2" fill="#34466e" text-anchor="middle">M</text>
<line x1="164.7" y1="260.2" x2="169.6" y2="260.2" stroke="#333" stroke-width="0.75"/>
<text x="176" y="260.59" font-size="7.2" fill="#3b3333" text-anchor="middle" transform="rotate(-90 176 258)">B</text>
<text x="168" y="279.29" font-size="7.2" fill="#3b3333" text-anchor="middle" transform="rotate(-90 168 276.7)">J</text>
<text x="222" y="284.09" font-size="7.2" fill="#34466e" text-anchor="middle">K</text>
<text x="222.7" y="291.99" font-size="7.2" fill="#34466e" text-anchor="middle">L</text>
<rect x="220.3" y="253.5" width="47.7" height="5.1" fill="#e0eef9"/>
<line x1="220.3" y1="253.5" x2="268" y2="253.5" stroke="#555" stroke-width="0.6"/>
<line x1="220.3" y1="258.6" x2="268" y2="258.6" stroke="#222" stroke-width="0.9"/>
<path d="M267.8,252.5 C269,251 270.6,250.1 272.4,249.8 C274.8,249.3 278.2,249.2 284,249.4 C284.4,251.2 284.5,254.2 284.2,257.2 C283.8,260.7 282.3,263.4 279.9,263.4 C277.8,263.4 275.8,263 274,262.5 C271.6,261.8 269.3,260.5 267.8,259.6 Z" stroke="#333" stroke-width="0.8" fill="#e0eef9" />
<line x1="180" y1="267.5" x2="294.7" y2="267.5" stroke="#262626" stroke-width="0.8"/>
<line x1="208.2" y1="234.6" x2="284" y2="234.6" stroke="#404040" stroke-width="0.55"/>
<path d="M284,234.6 L281.1,236.02 L281.91,234.6 L281.1,233.18 Z" fill="#222" stroke="#222" stroke-width="0.25" stroke-linejoin="round"/>
<line x1="284" y1="232.8" x2="284" y2="249.2" stroke="#404040" stroke-width="0.6"/>
<line x1="283.7" y1="249.2" x2="294.5" y2="249.2" stroke="#404040" stroke-width="0.6"/>
<line x1="293.6" y1="249.2" x2="293.6" y2="267.5" stroke="#404040" stroke-width="0.6"/>
<path d="M293.6,249.4 L295.02,252.3 L293.6,251.49 L292.18,252.3 Z" fill="#222" stroke="#222" stroke-width="0.25" stroke-linejoin="round"/>
<path d="M293.6,267.3 L292.18,264.4 L293.6,265.21 L295.02,264.4 Z" fill="#222" stroke="#222" stroke-width="0.25" stroke-linejoin="round"/>
<text x="246.7" y="233.39" font-size="7.2" fill="#3b3333" text-anchor="middle">C</text>
<text x="289" y="260.79" font-size="7.2" fill="#3b3333" text-anchor="middle" transform="rotate(-90 289 258.2)">G</text>
<rect x="334.05" y="253.05" width="23.35" height="6.25" fill="#e0eef9"/>
<path d="M326.4,259.3 H360.1 V267.6 H327.3 Z" stroke="none" stroke-width="0" fill="#e0eef9" />
<path d="M324.4,249.3 L334.05,249.3 L334.05,259.3 L326.4,259.8 C325,257.3 324.6,254.3 324.4,249.3 Z" stroke="none" stroke-width="0" fill="#e0eef9" />
<rect x="342.2" y="245.6" width="5.2" height="3" fill="#e0eef9"/>
<rect x="339.7" y="248.6" width="10.8" height="4.45" stroke="#666" stroke-width="0.6" fill="#e0eef9"/>
<line x1="339.7" y1="248.6" x2="350.5" y2="248.6" stroke="#222" stroke-width="0.85"/>
<line x1="342.2" y1="245.6" x2="347.4" y2="245.6" stroke="#222" stroke-width="0.8"/>
<line x1="342.4" y1="245.6" x2="342.4" y2="253.05" stroke="#222" stroke-width="0.8"/>
<line x1="345.1" y1="245.6" x2="345.1" y2="253.05" stroke="#222" stroke-width="0.8"/>
<line x1="347.2" y1="245.6" x2="347.2" y2="253.05" stroke="#222" stroke-width="0.8"/>
<line x1="334.05" y1="253.05" x2="357.4" y2="253.05" stroke="#262626" stroke-width="0.7"/>
<line x1="334.05" y1="259.3" x2="360.1" y2="259.3" stroke="#444" stroke-width="0.6"/>
<line x1="357.4" y1="253.05" x2="357.4" y2="259.3" stroke="#444" stroke-width="0.6"/>
<line x1="360.1" y1="239.3" x2="360.1" y2="267.6" stroke="#262626" stroke-width="0.8"/>
<path d="M324.4,249.3 C324.6,254.3 325,257.3 326.4,259.8 L327.3,267.6" stroke="#222" stroke-width="0.8" fill="none" />
<path d="M324.5,249.3 H334.05 V259.3" stroke="#262626" stroke-width="0.7" fill="none" />
<path d="M327.1,249.9 H332.8 Q333.9,249.9 333.9,251.1 V258.1 Q333.9,259.3 332.8,259.3 H327.4 Q326.3,259.3 326.3,258.1 V251.1 Q326.3,249.9 327.1,249.9 Z" stroke="#3a3a3a" stroke-width="0.75" fill="none" />
<circle cx="329.8" cy="262.6" r="1.1" stroke="#222" stroke-width="0.8" fill="none"/>
<line x1="330.9" y1="261.5" x2="330.9" y2="263.8" stroke="#222" stroke-width="0.65"/>
<rect x="342.1" y="267.6" width="5.6" height="8" fill="#e0eef9"/>
<line x1="342.1" y1="267.6" x2="342.1" y2="275.6" stroke="#444" stroke-width="0.6"/>
<line x1="347.7" y1="267.6" x2="347.7" y2="275.6" stroke="#444" stroke-width="0.6"/>
<line x1="342.1" y1="270.3" x2="347.7" y2="270.3" stroke="#666" stroke-width="0.4"/>
<line x1="342.1" y1="272.7" x2="347.7" y2="272.7" stroke="#666" stroke-width="0.4"/>
<rect x="342.8" y="275.6" width="4.2" height="5.2" fill="#e0eef9"/>
<line x1="342.8" y1="275.6" x2="342.8" y2="280.8" stroke="#444" stroke-width="0.6"/>
<line x1="347" y1="275.6" x2="347" y2="280.8" stroke="#444" stroke-width="0.6"/>
<rect x="340.5" y="275.6" width="9.1" height="9" fill="#e0eef9"/>
<line x1="340.5" y1="275.6" x2="349.6" y2="275.6" stroke="#666" stroke-width="0.5"/>
<line x1="340.5" y1="275.6" x2="340.5" y2="292.9" stroke="#555" stroke-width="0.6"/>
<line x1="349.6" y1="275.6" x2="349.6" y2="292.9" stroke="#555" stroke-width="0.6"/>
<line x1="343" y1="273.3" x2="343" y2="285.6" stroke="#1a1a1a" stroke-width="1.1"/>
<line x1="347.4" y1="275.6" x2="347.4" y2="284.6" stroke="#666" stroke-width="0.5"/>
<line x1="345.3" y1="231.3" x2="345.3" y2="284.3" stroke="#3a3a3a" stroke-width="0.55" stroke-dasharray="4,1,1,1"/>
<line x1="312.4" y1="233.2" x2="345.3" y2="233.2" stroke="#333" stroke-width="0.6"/>
<path d="M324.3,233.2 L321.4,234.62 L322.21,233.2 L321.4,231.78 Z" fill="#222" stroke="#222" stroke-width="0.25" stroke-linejoin="round"/>
<path d="M326.1,233.2 L329,231.78 L328.19,233.2 L329,234.62 Z" fill="#222" stroke="#222" stroke-width="0.25" stroke-linejoin="round"/>
<path d="M345.1,233.2 L342.2,234.62 L343.01,233.2 L342.2,231.78 Z" fill="#222" stroke="#222" stroke-width="0.25" stroke-linejoin="round"/>
<path d="M345.5,233.2 L348.4,231.78 L347.59,233.2 L348.4,234.62 Z" fill="#222" stroke="#222" stroke-width="0.25" stroke-linejoin="round"/>
<line x1="324.3" y1="231.4" x2="324.3" y2="249.3" stroke="#404040" stroke-width="0.6"/>
<line x1="326.1" y1="231.4" x2="326.1" y2="246.8" stroke="#404040" stroke-width="0.6"/>
<line x1="345.3" y1="241.3" x2="360.1" y2="241.3" stroke="#404040" stroke-width="0.6"/>
<path d="M345.4,241.3 L347.6,240.22 L346.98,241.3 L347.6,242.38 Z" fill="#222" stroke="#222" stroke-width="0.25" stroke-linejoin="round"/>
<path d="M360,241.3 L357.8,242.38 L358.42,241.3 L357.8,240.22 Z" fill="#222" stroke="#222" stroke-width="0.25" stroke-linejoin="round"/>
<line x1="326.6" y1="241.3" x2="335.3" y2="241.3" stroke="#404040" stroke-width="0.6"/>
<line x1="335.3" y1="241.3" x2="340.4" y2="246.8" stroke="#333" stroke-width="0.7"/>
<path d="M340.6,246.8 L337.03,245.92 L338.78,245.27 L339.11,243.44 Z" fill="#222" stroke="#222" stroke-width="0.25" stroke-linejoin="round"/>
<line x1="308.3" y1="245.6" x2="347.4" y2="245.6" stroke="#222" stroke-width="0.9"/>
<line x1="308.8" y1="245.6" x2="308.8" y2="286.8" stroke="#404040" stroke-width="0.6"/>
<path d="M308.8,245.6 L310.22,248.5 L308.8,247.69 L307.38,248.5 Z" fill="#222" stroke="#222" stroke-width="0.25" stroke-linejoin="round"/>
<path d="M308.8,275.6 L307.38,272.7 L308.8,273.51 L310.22,272.7 Z" fill="#222" stroke="#222" stroke-width="0.25" stroke-linejoin="round"/>
<line x1="317.1" y1="248.5" x2="324.3" y2="248.5" stroke="#404040" stroke-width="0.6"/>
<line x1="318" y1="248.5" x2="318" y2="267.6" stroke="#404040" stroke-width="0.6"/>
<path d="M318,248.7 L319.42,251.6 L318,250.79 L316.58,251.6 Z" fill="#222" stroke="#222" stroke-width="0.25" stroke-linejoin="round"/>
<path d="M318,266.5 L316.58,263.6 L318,264.41 L319.42,263.6 Z" fill="#222" stroke="#222" stroke-width="0.25" stroke-linejoin="round"/>
<line x1="308.3" y1="275.8" x2="340.2" y2="275.8" stroke="#404040" stroke-width="0.6"/>
<line x1="308.3" y1="278.6" x2="340.5" y2="278.6" stroke="#444" stroke-width="0.7"/>
<path d="M308.8,278.6 L310.22,280.8 L308.8,280.18 L307.38,280.8 Z" fill="#222" stroke="#222" stroke-width="0.25" stroke-linejoin="round"/>
<line x1="334.6" y1="284.6" x2="362.8" y2="284.6" stroke="#1e1e1e" stroke-width="1.0"/>
<path d="M340.2,284.6 L337.3,286.02 L338.11,284.6 L337.3,283.18 Z" fill="#222" stroke="#222" stroke-width="0.25" stroke-linejoin="round"/>
<path d="M349.6,284.6 L352.5,283.18 L351.69,284.6 L352.5,286.02 Z" fill="#222" stroke="#222" stroke-width="0.25" stroke-linejoin="round"/>
<line x1="334.6" y1="292.7" x2="362.8" y2="292.7" stroke="#404040" stroke-width="0.6"/>
<path d="M340.3,292.7 L337.4,294.12 L338.21,292.7 L337.4,291.28 Z" fill="#222" stroke="#222" stroke-width="0.25" stroke-linejoin="round"/>
<path d="M349.5,292.7 L352.4,291.28 L351.59,292.7 L352.4,294.12 Z" fill="#222" stroke="#222" stroke-width="0.25" stroke-linejoin="round"/>
<text x="315.1" y="232.19" font-size="7.2" fill="#3b3333" text-anchor="middle">E</text>
<text x="335.3" y="232.19" font-size="7.2" fill="#3b3333" text-anchor="middle">F</text>
<text x="354.1" y="239.99" font-size="7.2" fill="#3b3333" text-anchor="middle">D</text>
<text x="331.2" y="240.19" font-size="7.2" fill="#34466e" text-anchor="middle">M</text>
<line x1="301.8" y1="260.3" x2="306.7" y2="260.3" stroke="#333" stroke-width="0.75"/>
<text x="313.1" y="260.69" font-size="7.2" fill="#3b3333" text-anchor="middle" transform="rotate(-90 313.1 258.1)">B</text>
<text x="305.1" y="279.39" font-size="7.2" fill="#3b3333" text-anchor="middle" transform="rotate(-90 305.1 276.8)">J</text>
<text x="359.1" y="284.19" font-size="7.2" fill="#34466e" text-anchor="middle">K</text>
<text x="359.8" y="292.09" font-size="7.2" fill="#34466e" text-anchor="middle">L</text>
<path d="M357,253.6 L361.8,253.5 Q367.3,252.9 369.8,252.5 L402.6,244.5 L403.3,250 L370.8,258.3 Q363.8,259.1 357,259.1 Z" stroke="#333" stroke-width="0.7" fill="#e0eef9" />
<path d="M402.4,244 C402.93,242.92 404.72,241.6 406.3,240.5 C407.88,239.4 410.27,237.92 411.9,237.4 C413.53,236.88 414.93,237 416.1,237.4 C417.27,237.8 418.27,238.58 418.9,239.8 C419.53,241.02 420.02,243.23 419.9,244.7 C419.78,246.17 419.07,247.6 418.2,248.6 C417.33,249.6 416.22,250.3 414.7,250.7 C413.18,251.1 410.62,251.07 409.1,251 C407.58,250.93 406.37,250.47 405.6,250.3 C404.83,250.13 404.92,250.55 404.5,250 C404.08,249.45 403.45,248 403.1,247 C402.75,246 401.87,245.08 402.4,244 Z" stroke="#333" stroke-width="0.8" fill="#e0eef9" />
<line x1="317.1" y1="267.6" x2="431.4" y2="267.6" stroke="#262626" stroke-width="0.8"/>
<line x1="312.4" y1="233.2" x2="420.1" y2="233.2" stroke="#3a3a3a" stroke-width="0.65"/>
<path d="M420.1,233.2 L417.2,234.62 L418.01,233.2 L417.2,231.78 Z" fill="#222" stroke="#222" stroke-width="0.25" stroke-linejoin="round"/>
<line x1="419.9" y1="231.4" x2="419.9" y2="241.3" stroke="#222" stroke-width="0.8"/>
<line x1="416.1" y1="237.4" x2="431.5" y2="237.4" stroke="#333" stroke-width="0.75"/>
<line x1="430.1" y1="237.4" x2="430.1" y2="267.6" stroke="#404040" stroke-width="0.6"/>
<path d="M430.1,237.6 L431.52,240.5 L430.1,239.69 L428.68,240.5 Z" fill="#222" stroke="#222" stroke-width="0.25" stroke-linejoin="round"/>
<path d="M430.1,267.4 L428.68,264.5 L430.1,265.31 L431.52,264.5 Z" fill="#222" stroke="#222" stroke-width="0.25" stroke-linejoin="round"/>
<text x="383.8" y="231.99" font-size="7.2" fill="#3b3333" text-anchor="middle">C</text>
<text x="426.2" y="254.69" font-size="7.2" fill="#3b3333" text-anchor="middle" transform="rotate(-90 426.2 252.1)">G</text>
<rect x="181.6" y="352.2" width="37.9" height="24.1" fill="#e0eef9"/>
<rect x="219.5" y="362" width="44.5" height="5.4" fill="#e0eef9"/>
<line x1="219.5" y1="362" x2="264" y2="362" stroke="#555" stroke-width="0.6"/>
<line x1="219.5" y1="367.4" x2="264" y2="367.4" stroke="#222" stroke-width="0.9"/>
<path d="M264,359.84 C265.11,358.75 266.45,358.83 268.12,358.41 C269.57,357.88 270.68,357.25 272.35,357.25 L279.47,357.25 C280.7,357.25 281.81,358.2 282.25,359.46 C282.7,360.62 282.7,362.2 282.7,364.3 C282.7,366.93 282.48,368.51 281.25,369.77 C280.25,370.82 279.36,371.35 278.25,371.35 L272.35,371.35 C270.46,371.35 268.79,370.61 267.01,369.67 C266,369.72 265,369 264,368.64 Z" stroke="#333" stroke-width="0.8" fill="#e0eef9" />
<line x1="166.3" y1="352.2" x2="219.5" y2="352.2" stroke="#262626" stroke-width="0.75"/>
<line x1="166.3" y1="376.3" x2="219.5" y2="376.3" stroke="#262626" stroke-width="0.75"/>
<line x1="181.6" y1="352.2" x2="181.6" y2="376.3" stroke="#1e1e1e" stroke-width="1.0"/>
<line x1="219.5" y1="352.2" x2="219.5" y2="362" stroke="#262626" stroke-width="0.85"/>
<line x1="219.5" y1="367.4" x2="219.5" y2="376.3" stroke="#262626" stroke-width="0.85"/>
<line x1="175.2" y1="358.8" x2="199.6" y2="358.8" stroke="#444" stroke-width="0.6"/>
<line x1="175.2" y1="369.5" x2="199.6" y2="369.5" stroke="#444" stroke-width="0.6"/>
<ellipse cx="175.6" cy="364.2" rx="1.25" ry="5.0" stroke="#222" stroke-width="0.75" fill="none"/>
<path d="M189.5,352.5 C191.5,353.2 191.8,355.2 191.8,357.2 L191.8,371.3 C191.8,373.3 191.5,375.3 189.5,376" stroke="#1a1a1a" stroke-width="1.05" fill="none" />
<path d="M199.1,354.1 H211.3 C215.1,354.1 216.6,360.3 216.6,364.3 C216.6,371.3 210.6,375.1 203.6,375.1 C196.6,375.1 192.1,370.3 192.1,364.3 C192.1,359.3 195.1,355.1 199.1,354.1 Z" stroke="#444" stroke-width="0.6" fill="none" />
<line x1="199.1" y1="354.1" x2="211.3" y2="354.1" stroke="#222" stroke-width="1.1"/>
<circle cx="202.6" cy="364.3" r="6" stroke="#1e1e1e" stroke-width="1.5" fill="#e0eef9"/>
<line x1="202.6" y1="349" x2="202.6" y2="380" stroke="#3a3a3a" stroke-width="0.6" stroke-dasharray="5,1.2,1,1.2"/>
<line x1="179" y1="364.3" x2="286.7" y2="364.3" stroke="#3a3a3a" stroke-width="0.6" stroke-dasharray="5,1.2,1,1.2"/>
<line x1="167.2" y1="352.2" x2="167.2" y2="376.3" stroke="#404040" stroke-width="0.6"/>
<path d="M167.2,352.4 L168.75,355.8 L167.2,354.85 L165.65,355.8 Z" fill="#222" stroke="#222" stroke-width="0.25" stroke-linejoin="round"/>
<path d="M167.2,376.1 L165.65,372.7 L167.2,373.65 L168.75,372.7 Z" fill="#222" stroke="#222" stroke-width="0.25" stroke-linejoin="round"/>
<text x="163.5" y="366.6" font-size="6.4" fill="#3b3333" text-anchor="middle" transform="rotate(-90 163.5 364.3)">A</text>
<text x="170.5" y="366.17" font-size="5.2" fill="#34466e" text-anchor="middle" transform="rotate(-90 170.5 364.3)">H</text>
<line x1="169.1" y1="362.3" x2="171.9" y2="362.3" stroke="#444" stroke-width="0.6"/>
<line x1="169.1" y1="366.3" x2="171.9" y2="366.3" stroke="#444" stroke-width="0.6"/>
<rect x="317.8" y="352.2" width="36.8" height="24.1" fill="#e0eef9"/>
<rect x="354.6" y="362" width="45.4" height="5.4" fill="#e0eef9"/>
<line x1="354.6" y1="362" x2="400" y2="362" stroke="#555" stroke-width="0.6"/>
<line x1="354.6" y1="367.4" x2="400" y2="367.4" stroke="#222" stroke-width="0.9"/>
<path d="M400,359.84 C401.12,358.75 402.46,358.83 404.14,358.41 C405.6,357.88 406.71,357.25 408.39,357.25 L415.55,357.25 C416.79,357.25 417.9,358.2 418.35,359.46 C418.8,360.62 418.8,362.2 418.8,364.3 C418.8,366.93 418.58,368.51 417.35,369.77 C416.34,370.82 415.44,371.35 414.32,371.35 L408.39,371.35 C406.49,371.35 404.81,370.61 403.02,369.67 C402.01,369.72 401.01,369 400,368.64 Z" stroke="#333" stroke-width="0.8" fill="#e0eef9" />
<line x1="302.5" y1="352.2" x2="354.6" y2="352.2" stroke="#262626" stroke-width="0.75"/>
<line x1="302.5" y1="376.3" x2="354.6" y2="376.3" stroke="#262626" stroke-width="0.75"/>
<line x1="317.8" y1="352.2" x2="317.8" y2="376.3" stroke="#1e1e1e" stroke-width="1.0"/>
<line x1="354.6" y1="352.2" x2="354.6" y2="362" stroke="#262626" stroke-width="0.85"/>
<line x1="354.6" y1="367.4" x2="354.6" y2="376.3" stroke="#262626" stroke-width="0.85"/>
<line x1="311.4" y1="358.8" x2="335.8" y2="358.8" stroke="#444" stroke-width="0.6"/>
<line x1="311.4" y1="369.5" x2="335.8" y2="369.5" stroke="#444" stroke-width="0.6"/>
<ellipse cx="311.8" cy="364.2" rx="1.25" ry="5.0" stroke="#222" stroke-width="0.75" fill="none"/>
<path d="M325.7,352.5 C327.7,353.2 328,355.2 328,357.2 L328,371.3 C328,373.3 327.7,375.3 325.7,376" stroke="#1a1a1a" stroke-width="1.05" fill="none" />
<path d="M335.3,354.1 H347.5 C351.3,354.1 352.8,360.3 352.8,364.3 C352.8,371.3 346.8,375.1 339.8,375.1 C332.8,375.1 328.3,370.3 328.3,364.3 C328.3,359.3 331.3,355.1 335.3,354.1 Z" stroke="#444" stroke-width="0.6" fill="none" />
<line x1="335.3" y1="354.1" x2="347.5" y2="354.1" stroke="#222" stroke-width="1.1"/>
<circle cx="338.8" cy="364.3" r="6" stroke="#1e1e1e" stroke-width="1.5" fill="#e0eef9"/>
<line x1="338.8" y1="349" x2="338.8" y2="380" stroke="#3a3a3a" stroke-width="0.6" stroke-dasharray="5,1.2,1,1.2"/>
<line x1="315.2" y1="364.3" x2="422.5" y2="364.3" stroke="#3a3a3a" stroke-width="0.6" stroke-dasharray="5,1.2,1,1.2"/>
<line x1="303.4" y1="352.2" x2="303.4" y2="376.3" stroke="#404040" stroke-width="0.6"/>
<path d="M303.4,352.4 L304.95,355.8 L303.4,354.85 L301.85,355.8 Z" fill="#222" stroke="#222" stroke-width="0.25" stroke-linejoin="round"/>
<path d="M303.4,376.1 L301.85,372.7 L303.4,373.65 L304.95,372.7 Z" fill="#222" stroke="#222" stroke-width="0.25" stroke-linejoin="round"/>
<text x="299.7" y="366.6" font-size="6.4" fill="#3b3333" text-anchor="middle" transform="rotate(-90 299.7 364.3)">A</text>
<text x="306.7" y="366.17" font-size="5.2" fill="#34466e" text-anchor="middle" transform="rotate(-90 306.7 364.3)">H</text>
<line x1="305.3" y1="362.3" x2="308.1" y2="362.3" stroke="#444" stroke-width="0.6"/>
<line x1="305.3" y1="366.3" x2="308.1" y2="366.3" stroke="#444" stroke-width="0.6"/>
<rect x="181.3" y="475.3" width="37.7" height="24.3" fill="#e0eef9"/>
<rect x="219" y="485" width="45" height="5.7" fill="#e0eef9"/>
<line x1="219" y1="485" x2="264" y2="485" stroke="#555" stroke-width="0.6"/>
<line x1="219" y1="490.7" x2="264" y2="490.7" stroke="#222" stroke-width="0.9"/>
<path d="M264,483.04 C265.11,481.95 266.45,482.03 268.12,481.61 C269.57,481.08 270.68,480.45 272.35,480.45 L279.47,480.45 C280.7,480.45 281.81,481.4 282.25,482.66 C282.7,483.82 282.7,485.4 282.7,487.5 C282.7,490.13 282.48,491.71 281.25,492.97 C280.25,494.02 279.36,494.55 278.25,494.55 L272.35,494.55 C270.46,494.55 268.79,493.81 267.01,492.87 C266,492.92 265,492.2 264,491.84 Z" stroke="#333" stroke-width="0.8" fill="#e0eef9" />
<line x1="175" y1="475.3" x2="219" y2="475.3" stroke="#262626" stroke-width="0.75"/>
<line x1="175" y1="499.6" x2="219" y2="499.6" stroke="#262626" stroke-width="0.75"/>
<line x1="181.3" y1="475.3" x2="181.3" y2="483.8" stroke="#1e1e1e" stroke-width="0.9"/>
<line x1="181.3" y1="490.8" x2="181.3" y2="499.6" stroke="#1e1e1e" stroke-width="0.9"/>
<line x1="219" y1="475.3" x2="219" y2="485" stroke="#262626" stroke-width="0.85"/>
<line x1="219" y1="490.7" x2="219" y2="499.6" stroke="#262626" stroke-width="0.85"/>
<path d="M174.3,473.3 L184,487.3 L174.3,501.3" stroke="#333" stroke-width="0.65" fill="none" />
<path d="M174.3,473.3 A17.03,17.03 0 0 0 174.3,501.3" stroke="#333" stroke-width="0.6" fill="none" />
<path d="M174.5,473.1 L172.82,475.93 L172.73,474.34 L171.27,473.71 Z" fill="#222" stroke="#222" stroke-width="0.25" stroke-linejoin="round"/>
<path d="M174.5,501.5 L171.27,500.89 L172.73,500.26 L172.82,498.67 Z" fill="#222" stroke="#222" stroke-width="0.25" stroke-linejoin="round"/>
<path d="M189,475.6 C191,476.3 191.3,478.3 191.3,480.3 L191.3,494.6 C191.3,496.6 191,498.6 189,499.3" stroke="#1a1a1a" stroke-width="1.05" fill="none" />
<path d="M202,477.7 H210.7 Q214.7,477.7 214.7,481.7 V496.6 Q214.7,499.6 211.7,499.6 H203 C196,499.6 192.7,492.3 192.7,488.3 C192.7,482.3 196,477.7 202,477.7 Z" stroke="#444" stroke-width="0.6" fill="none" />
<circle cx="202" cy="487.3" r="6.1" stroke="#1e1e1e" stroke-width="1.5" fill="#e0eef9"/>
<line x1="202" y1="471.3" x2="202" y2="503.3" stroke="#3a3a3a" stroke-width="0.6" stroke-dasharray="5,1.2,1,1.2"/>
<line x1="179" y1="487.3" x2="286.7" y2="487.3" stroke="#3a3a3a" stroke-width="0.6" stroke-dasharray="5,1.2,1,1.2"/>
<line x1="175.7" y1="475.3" x2="175.7" y2="499.6" stroke="#404040" stroke-width="0.6"/>
<path d="M175.7,475.3 L177.12,477.5 L175.7,476.88 L174.28,477.5 Z" fill="#222" stroke="#222" stroke-width="0.25" stroke-linejoin="round"/>
<path d="M175.7,499.6 L174.28,497.4 L175.7,498.02 L177.12,497.4 Z" fill="#222" stroke="#222" stroke-width="0.25" stroke-linejoin="round"/>
<line x1="206" y1="482.5" x2="235.2" y2="482.5" stroke="#444" stroke-width="0.6"/>
<line x1="206" y1="493.5" x2="235.2" y2="493.5" stroke="#444" stroke-width="0.6"/>
<line x1="234.7" y1="470" x2="234.7" y2="499.7" stroke="#222" stroke-width="0.8"/>
<path d="M234.7,482.5 L233.28,479.6 L234.7,480.41 L236.12,479.6 Z" fill="#222" stroke="#222" stroke-width="0.25" stroke-linejoin="round"/>
<path d="M234.7,493.5 L236.12,496.4 L234.7,495.59 L233.28,496.4 Z" fill="#222" stroke="#222" stroke-width="0.25" stroke-linejoin="round"/>
<text x="230" y="476.23" font-size="6.2" fill="#34466e" text-anchor="middle" transform="rotate(-90 230 474)">H</text>
<text x="163.1" y="489.68" font-size="6.6" fill="#3b3333" text-anchor="middle" transform="rotate(-90 163.1 487.3)">120°</text>
<text x="172.3" y="489.68" font-size="6.6" fill="#3b3333" text-anchor="middle" transform="rotate(-90 172.3 487.3)">A</text>
<rect x="317.9" y="475.4" width="36.6" height="24.3" fill="#e0eef9"/>
<rect x="354.5" y="485.1" width="45.5" height="5.7" fill="#e0eef9"/>
<line x1="354.5" y1="485.1" x2="400" y2="485.1" stroke="#555" stroke-width="0.6"/>
<line x1="354.5" y1="490.8" x2="400" y2="490.8" stroke="#222" stroke-width="0.9"/>
<path d="M400,483.14 C401.12,482.05 402.46,482.13 404.13,481.71 C405.58,481.18 406.7,480.55 408.37,480.55 L415.51,480.55 C416.74,480.55 417.86,481.5 418.3,482.76 C418.75,483.92 418.75,485.5 418.75,487.6 C418.75,490.23 418.53,491.81 417.3,493.07 C416.29,494.12 415.4,494.65 414.29,494.65 L408.37,494.65 C406.47,494.65 404.8,493.91 403.01,492.97 C402.01,493.02 401,492.3 400,491.94 Z" stroke="#333" stroke-width="0.8" fill="#e0eef9" />
<line x1="311.6" y1="475.4" x2="354.5" y2="475.4" stroke="#262626" stroke-width="0.75"/>
<line x1="311.6" y1="499.7" x2="354.5" y2="499.7" stroke="#262626" stroke-width="0.75"/>
<line x1="317.9" y1="475.4" x2="317.9" y2="483.9" stroke="#1e1e1e" stroke-width="0.9"/>
<line x1="317.9" y1="490.9" x2="317.9" y2="499.7" stroke="#1e1e1e" stroke-width="0.9"/>
<line x1="354.5" y1="475.4" x2="354.5" y2="485.1" stroke="#262626" stroke-width="0.85"/>
<line x1="354.5" y1="490.8" x2="354.5" y2="499.7" stroke="#262626" stroke-width="0.85"/>
<path d="M310.9,473.4 L320.6,487.4 L310.9,501.4" stroke="#333" stroke-width="0.65" fill="none" />
<path d="M310.9,473.4 A17.03,17.03 0 0 0 310.9,501.4" stroke="#333" stroke-width="0.6" fill="none" />
<path d="M311.1,473.2 L309.42,476.03 L309.33,474.44 L307.87,473.81 Z" fill="#222" stroke="#222" stroke-width="0.25" stroke-linejoin="round"/>
<path d="M311.1,501.6 L307.87,500.99 L309.33,500.36 L309.42,498.77 Z" fill="#222" stroke="#222" stroke-width="0.25" stroke-linejoin="round"/>
<path d="M325.6,475.7 C327.6,476.4 327.9,478.4 327.9,480.4 L327.9,494.7 C327.9,496.7 327.6,498.7 325.6,499.4" stroke="#1a1a1a" stroke-width="1.05" fill="none" />
<path d="M338.6,477.8 H347.3 Q351.3,477.8 351.3,481.8 V496.7 Q351.3,499.7 348.3,499.7 H339.6 C332.6,499.7 329.3,492.4 329.3,488.4 C329.3,482.4 332.6,477.8 338.6,477.8 Z" stroke="#444" stroke-width="0.6" fill="none" />
<circle cx="338.6" cy="487.4" r="6.1" stroke="#1e1e1e" stroke-width="1.5" fill="#e0eef9"/>
<line x1="338.6" y1="471.4" x2="338.6" y2="503.4" stroke="#3a3a3a" stroke-width="0.6" stroke-dasharray="5,1.2,1,1.2"/>
<line x1="315.6" y1="487.4" x2="422.5" y2="487.4" stroke="#3a3a3a" stroke-width="0.6" stroke-dasharray="5,1.2,1,1.2"/>
<line x1="312.3" y1="475.4" x2="312.3" y2="499.7" stroke="#404040" stroke-width="0.6"/>
<path d="M312.3,475.4 L313.72,477.6 L312.3,476.98 L310.88,477.6 Z" fill="#222" stroke="#222" stroke-width="0.25" stroke-linejoin="round"/>
<path d="M312.3,499.7 L310.88,497.5 L312.3,498.12 L313.72,497.5 Z" fill="#222" stroke="#222" stroke-width="0.25" stroke-linejoin="round"/>
<line x1="342.6" y1="482.6" x2="371" y2="482.6" stroke="#444" stroke-width="0.6"/>
<line x1="342.6" y1="493.6" x2="371" y2="493.6" stroke="#444" stroke-width="0.6"/>
<line x1="370.5" y1="470.1" x2="370.5" y2="499.8" stroke="#222" stroke-width="0.8"/>
<path d="M370.5,482.6 L369.08,479.7 L370.5,480.51 L371.92,479.7 Z" fill="#222" stroke="#222" stroke-width="0.25" stroke-linejoin="round"/>
<path d="M370.5,493.6 L371.92,496.5 L370.5,495.69 L369.08,496.5 Z" fill="#222" stroke="#222" stroke-width="0.25" stroke-linejoin="round"/>
<text x="366.6" y="476.33" font-size="6.2" fill="#34466e" text-anchor="middle" transform="rotate(-90 366.6 474.1)">H</text>
<text x="299.7" y="489.78" font-size="6.6" fill="#3b3333" text-anchor="middle" transform="rotate(-90 299.7 487.4)">120°</text>
<text x="308.9" y="489.78" font-size="6.6" fill="#3b3333" text-anchor="middle" transform="rotate(-90 308.9 487.4)">A</text>
<rect x="191.5" y="411" width="24.2" height="7" fill="#e0eef9"/>
<rect x="183.5" y="418" width="36.2" height="8.2" fill="#e0eef9"/>
<path d="M182,407.3 L191.5,407.3 L191.5,418 L183.5,418 Z" stroke="none" stroke-width="0" fill="#e0eef9" />
<rect x="195.8" y="407.3" width="13.7" height="3.9" stroke="#555" stroke-width="0.6" fill="#e0eef9"/>
<line x1="196.6" y1="407.3" x2="196.6" y2="411.2" stroke="#333" stroke-width="0.6"/>
<line x1="199.6" y1="407.3" x2="199.6" y2="411.2" stroke="#333" stroke-width="0.6"/>
<line x1="205.6" y1="407.3" x2="205.6" y2="411.2" stroke="#333" stroke-width="0.6"/>
<line x1="191.5" y1="411.2" x2="215.7" y2="411.2" stroke="#1a1a1a" stroke-width="1.05"/>
<line x1="183.5" y1="418.2" x2="219.7" y2="418.2" stroke="#333" stroke-width="0.7"/>
<line x1="215.7" y1="411.2" x2="215.7" y2="418.2" stroke="#333" stroke-width="0.7"/>
<line x1="219.7" y1="398.5" x2="219.7" y2="426.2" stroke="#262626" stroke-width="0.8"/>
<path d="M182,407.3 L183.5,418" stroke="#1e1e1e" stroke-width="0.9" fill="none" />
<line x1="183.6" y1="418" x2="184" y2="426.2" stroke="#555" stroke-width="0.6"/>
<line x1="183.5" y1="417.6" x2="191.5" y2="417.6" stroke="#1e1e1e" stroke-width="0.95"/>
<line x1="191.5" y1="407.3" x2="191.5" y2="418" stroke="#222" stroke-width="0.8"/>
<path d="M189.3,409 C189.9,411 189.9,414 189.3,416" stroke="#222" stroke-width="0.8" fill="none" />
<circle cx="187.3" cy="421" r="1.15" stroke="#222" stroke-width="0.8" fill="none"/>
<line x1="188.4" y1="420" x2="188.4" y2="422.2" stroke="#222" stroke-width="0.6"/>
<rect x="199.5" y="426.2" width="7" height="12.8" fill="#e0eef9"/>
<line x1="199.8" y1="426.2" x2="199.8" y2="439" stroke="#222" stroke-width="1.0"/>
<line x1="206.5" y1="426.2" x2="206.5" y2="439" stroke="#1e1e1e" stroke-width="0.9"/>
<line x1="199.5" y1="439" x2="206.5" y2="439" stroke="#333" stroke-width="0.6"/>
<line x1="202.5" y1="388" x2="202.5" y2="441" stroke="#3a3a3a" stroke-width="0.55" stroke-dasharray="4,1,1,1"/>
<line x1="170.3" y1="390" x2="202.5" y2="390" stroke="#333" stroke-width="0.6"/>
<path d="M180.5,390 L178.2,391.08 L178.84,390 L178.2,388.92 Z" fill="#222" stroke="#222" stroke-width="0.25" stroke-linejoin="round"/>
<path d="M183.5,390 L185.8,388.92 L185.16,390 L185.8,391.08 Z" fill="#222" stroke="#222" stroke-width="0.25" stroke-linejoin="round"/>
<path d="M202.3,390 L200,391.08 L200.64,390 L200,388.92 Z" fill="#222" stroke="#222" stroke-width="0.25" stroke-linejoin="round"/>
<path d="M202.7,390 L205,388.92 L204.36,390 L205,391.08 Z" fill="#222" stroke="#222" stroke-width="0.25" stroke-linejoin="round"/>
<line x1="180.5" y1="388.5" x2="180.5" y2="407" stroke="#404040" stroke-width="0.6"/>
<line x1="183.5" y1="388.5" x2="183.5" y2="407" stroke="#404040" stroke-width="0.6"/>
<line x1="202.5" y1="398.4" x2="219.7" y2="398.4" stroke="#404040" stroke-width="0.6"/>
<path d="M202.6,398.4 L204.8,397.32 L204.18,398.4 L204.8,399.48 Z" fill="#222" stroke="#222" stroke-width="0.25" stroke-linejoin="round"/>
<path d="M219.6,398.4 L217.4,399.48 L218.02,398.4 L217.4,397.32 Z" fill="#222" stroke="#222" stroke-width="0.25" stroke-linejoin="round"/>
<line x1="165.7" y1="407.3" x2="195.8" y2="407.3" stroke="#1e1e1e" stroke-width="1.0"/>
<line x1="167.7" y1="407" x2="167.7" y2="445.5" stroke="#404040" stroke-width="0.6"/>
<path d="M167.7,407.1 L169.12,409.3 L167.7,408.68 L166.28,409.3 Z" fill="#222" stroke="#222" stroke-width="0.25" stroke-linejoin="round"/>
<path d="M167.7,426.1 L166.28,423.9 L167.7,424.52 L169.12,423.9 Z" fill="#222" stroke="#222" stroke-width="0.25" stroke-linejoin="round"/>
<path d="M167.7,426.3 L169.12,428.7 L167.7,428.03 L166.28,428.7 Z" fill="#222" stroke="#222" stroke-width="0.25" stroke-linejoin="round"/>
<path d="M167.7,439.2 L169.12,441.8 L167.7,441.07 L166.28,441.8 Z" fill="#222" stroke="#222" stroke-width="0.25" stroke-linejoin="round"/>
<line x1="175" y1="407" x2="175" y2="426.2" stroke="#404040" stroke-width="0.6"/>
<path d="M175,407.1 L176.42,409.3 L175,408.68 L173.58,409.3 Z" fill="#222" stroke="#222" stroke-width="0.25" stroke-linejoin="round"/>
<path d="M175,426.1 L173.58,423.9 L175,424.52 L176.42,423.9 Z" fill="#222" stroke="#222" stroke-width="0.25" stroke-linejoin="round"/>
<line x1="167" y1="439" x2="199.5" y2="439" stroke="#2a2a2a" stroke-width="0.8"/>
<path d="M207,431.3 L216.3,440.7 H226.3" stroke="#222" stroke-width="0.75" fill="none" />
<line x1="201.2" y1="426.2" x2="201.2" y2="439" stroke="#555" stroke-width="0.5"/>
<path d="M206.9,431.2 L210.02,432.32 L208.43,432.73 L208.02,434.32 Z" fill="#222" stroke="#222" stroke-width="0.25" stroke-linejoin="round"/>
<text x="173.5" y="390.09" font-size="7.2" fill="#3b3333" text-anchor="middle">E</text>
<text x="193.5" y="390.09" font-size="7.2" fill="#34466e" text-anchor="middle">F</text>
<text x="211.5" y="397.59" font-size="7.2" fill="#34466e" text-anchor="middle">D</text>
<line x1="160.6" y1="416.3" x2="165.4" y2="416.3" stroke="#333" stroke-width="0.75"/>
<text x="171" y="419.29" font-size="7.2" fill="#3b3333" text-anchor="middle" transform="rotate(-90 171 416.7)">B</text>
<text x="163" y="435.89" font-size="7.2" fill="#3b3333" text-anchor="middle" transform="rotate(-90 163 433.3)">J</text>
<text x="222.3" y="439.29" font-size="7.2" fill="#3b3333" text-anchor="middle">M</text>
<rect x="215.7" y="412.3" width="48.6" height="5.1" fill="#e0eef9"/>
<line x1="215.7" y1="412.3" x2="264.3" y2="412.3" stroke="#555" stroke-width="0.6"/>
<line x1="215.7" y1="417.4" x2="264.3" y2="417.4" stroke="#1e1e1e" stroke-width="1.0"/>
<path d="M264.3,410.55 C265.63,409.07 267.41,408.19 269.41,407.89 C272.08,407.4 275.86,407.3 282.3,407.5 C282.74,409.27 282.86,412.23 282.52,415.19 C282.08,418.64 280.41,421.3 277.74,421.3 C275.41,421.3 273.19,420.91 271.19,420.41 C268.52,419.72 265.97,418.44 264.3,417.55 Z" stroke="#333" stroke-width="0.8" fill="#e0eef9" />
<line x1="167.7" y1="426.2" x2="291.7" y2="426.2" stroke="#262626" stroke-width="0.8"/>
<line x1="202.5" y1="390" x2="281.7" y2="390" stroke="#404040" stroke-width="0.55"/>
<path d="M281.7,390 L278.8,391.42 L279.61,390 L278.8,388.58 Z" fill="#222" stroke="#222" stroke-width="0.25" stroke-linejoin="round"/>
<line x1="281.7" y1="388.5" x2="281.7" y2="407.7" stroke="#404040" stroke-width="0.6"/>
<line x1="275" y1="407.7" x2="291.7" y2="407.7" stroke="#404040" stroke-width="0.6"/>
<line x1="290.7" y1="407.7" x2="290.7" y2="426.2" stroke="#404040" stroke-width="0.6"/>
<path d="M290.7,407.9 L292.12,410.1 L290.7,409.48 L289.28,410.1 Z" fill="#222" stroke="#222" stroke-width="0.25" stroke-linejoin="round"/>
<path d="M290.7,426 L289.28,423.8 L290.7,424.42 L292.12,423.8 Z" fill="#222" stroke="#222" stroke-width="0.25" stroke-linejoin="round"/>
<text x="242.3" y="389.89" font-size="7.2" fill="#3b3333" text-anchor="middle">C</text>
<text x="285.9" y="419.79" font-size="7.2" fill="#3b3333" text-anchor="middle" transform="rotate(-90 285.9 417.2)">G</text>
<rect x="327.4" y="410.9" width="24.2" height="7" fill="#e0eef9"/>
<rect x="319.4" y="417.9" width="36.2" height="8.2" fill="#e0eef9"/>
<path d="M317.9,407.2 L327.4,407.2 L327.4,417.9 L319.4,417.9 Z" stroke="none" stroke-width="0" fill="#e0eef9" />
<rect x="331.7" y="407.2" width="13.7" height="3.9" stroke="#555" stroke-width="0.6" fill="#e0eef9"/>
<line x1="332.5" y1="407.2" x2="332.5" y2="411.1" stroke="#333" stroke-width="0.6"/>
<line x1="335.5" y1="407.2" x2="335.5" y2="411.1" stroke="#333" stroke-width="0.6"/>
<line x1="341.5" y1="407.2" x2="341.5" y2="411.1" stroke="#333" stroke-width="0.6"/>
<line x1="327.4" y1="411.1" x2="351.6" y2="411.1" stroke="#1a1a1a" stroke-width="1.05"/>
<line x1="319.4" y1="418.1" x2="355.6" y2="418.1" stroke="#333" stroke-width="0.7"/>
<line x1="351.6" y1="411.1" x2="351.6" y2="418.1" stroke="#333" stroke-width="0.7"/>
<line x1="355.6" y1="399" x2="355.6" y2="426.1" stroke="#262626" stroke-width="0.8"/>
<path d="M317.9,407.2 L319.4,417.9" stroke="#1e1e1e" stroke-width="0.9" fill="none" />
<line x1="319.5" y1="417.9" x2="319.9" y2="426.1" stroke="#555" stroke-width="0.6"/>
<line x1="319.4" y1="417.5" x2="327.4" y2="417.5" stroke="#1e1e1e" stroke-width="0.95"/>
<line x1="327.4" y1="407.2" x2="327.4" y2="417.9" stroke="#222" stroke-width="0.8"/>
<path d="M325.2,408.9 C325.8,410.9 325.8,413.9 325.2,415.9" stroke="#222" stroke-width="0.8" fill="none" />
<circle cx="323.2" cy="420.9" r="1.15" stroke="#222" stroke-width="0.8" fill="none"/>
<line x1="324.3" y1="419.9" x2="324.3" y2="422.1" stroke="#222" stroke-width="0.6"/>
<rect x="335.4" y="426.1" width="7" height="12.8" fill="#e0eef9"/>
<line x1="335.7" y1="426.1" x2="335.7" y2="438.9" stroke="#222" stroke-width="1.0"/>
<line x1="342.4" y1="426.1" x2="342.4" y2="438.9" stroke="#1e1e1e" stroke-width="0.9"/>
<line x1="335.4" y1="438.9" x2="342.4" y2="438.9" stroke="#333" stroke-width="0.6"/>
<line x1="338.4" y1="388.5" x2="338.4" y2="440.9" stroke="#3a3a3a" stroke-width="0.55" stroke-dasharray="4,1,1,1"/>
<line x1="306.2" y1="390.5" x2="338.4" y2="390.5" stroke="#333" stroke-width="0.6"/>
<path d="M316.4,390.5 L314.1,391.58 L314.74,390.5 L314.1,389.42 Z" fill="#222" stroke="#222" stroke-width="0.25" stroke-linejoin="round"/>
<path d="M319.4,390.5 L321.7,389.42 L321.06,390.5 L321.7,391.58 Z" fill="#222" stroke="#222" stroke-width="0.25" stroke-linejoin="round"/>
<path d="M338.2,390.5 L335.9,391.58 L336.54,390.5 L335.9,389.42 Z" fill="#222" stroke="#222" stroke-width="0.25" stroke-linejoin="round"/>
<path d="M338.6,390.5 L340.9,389.42 L340.26,390.5 L340.9,391.58 Z" fill="#222" stroke="#222" stroke-width="0.25" stroke-linejoin="round"/>
<line x1="316.4" y1="389" x2="316.4" y2="406.9" stroke="#404040" stroke-width="0.6"/>
<line x1="319.4" y1="389" x2="319.4" y2="406.9" stroke="#404040" stroke-width="0.6"/>
<line x1="338.4" y1="398.9" x2="355.6" y2="398.9" stroke="#404040" stroke-width="0.6"/>
<path d="M338.5,398.9 L340.7,397.82 L340.08,398.9 L340.7,399.98 Z" fill="#222" stroke="#222" stroke-width="0.25" stroke-linejoin="round"/>
<path d="M355.5,398.9 L353.3,399.98 L353.92,398.9 L353.3,397.82 Z" fill="#222" stroke="#222" stroke-width="0.25" stroke-linejoin="round"/>
<line x1="301.6" y1="407.2" x2="331.7" y2="407.2" stroke="#1e1e1e" stroke-width="1.0"/>
<line x1="303.6" y1="406.9" x2="303.6" y2="445.4" stroke="#404040" stroke-width="0.6"/>
<path d="M303.6,407 L305.02,409.2 L303.6,408.58 L302.18,409.2 Z" fill="#222" stroke="#222" stroke-width="0.25" stroke-linejoin="round"/>
<path d="M303.6,426 L302.18,423.8 L303.6,424.42 L305.02,423.8 Z" fill="#222" stroke="#222" stroke-width="0.25" stroke-linejoin="round"/>
<path d="M303.6,426.2 L305.02,428.6 L303.6,427.93 L302.18,428.6 Z" fill="#222" stroke="#222" stroke-width="0.25" stroke-linejoin="round"/>
<path d="M303.6,439.1 L305.02,441.7 L303.6,440.97 L302.18,441.7 Z" fill="#222" stroke="#222" stroke-width="0.25" stroke-linejoin="round"/>
<line x1="310.9" y1="406.9" x2="310.9" y2="426.1" stroke="#404040" stroke-width="0.6"/>
<path d="M310.9,407 L312.32,409.2 L310.9,408.58 L309.48,409.2 Z" fill="#222" stroke="#222" stroke-width="0.25" stroke-linejoin="round"/>
<path d="M310.9,426 L309.48,423.8 L310.9,424.42 L312.32,423.8 Z" fill="#222" stroke="#222" stroke-width="0.25" stroke-linejoin="round"/>
<line x1="302.9" y1="438.9" x2="335.4" y2="438.9" stroke="#2a2a2a" stroke-width="0.8"/>
<path d="M342.9,431.2 L352.2,440.6 H362.2" stroke="#222" stroke-width="0.75" fill="none" />
<line x1="337.1" y1="426.1" x2="337.1" y2="438.9" stroke="#555" stroke-width="0.5"/>
<path d="M342.8,431.1 L345.92,432.22 L344.33,432.63 L343.92,434.22 Z" fill="#222" stroke="#222" stroke-width="0.25" stroke-linejoin="round"/>
<text x="309.4" y="390.59" font-size="7.2" fill="#3b3333" text-anchor="middle">E</text>
<text x="329.4" y="390.59" font-size="7.2" fill="#34466e" text-anchor="middle">F</text>
<text x="347.4" y="398.09" font-size="7.2" fill="#34466e" text-anchor="middle">D</text>
<line x1="296.5" y1="416.2" x2="301.3" y2="416.2" stroke="#333" stroke-width="0.75"/>
<text x="306.9" y="419.19" font-size="7.2" fill="#3b3333" text-anchor="middle" transform="rotate(-90 306.9 416.6)">B</text>
<text x="298.9" y="435.79" font-size="7.2" fill="#3b3333" text-anchor="middle" transform="rotate(-90 298.9 433.2)">J</text>
<text x="358.2" y="439.19" font-size="7.2" fill="#3b3333" text-anchor="middle">M</text>
<path d="M352.2,411.5 L360,411.6 Q363.5,411.4 366.5,410.6 L400.4,402.3 L401.2,407.8 L368.5,416 Q364.5,417.3 358,417.3 L352.2,417.3 Z" stroke="#333" stroke-width="0.7" fill="#e0eef9" />
<path d="M400.1,400.3 C400.97,399.08 403.85,397.4 405.8,396.4 C407.75,395.4 410.31,394.6 411.8,394.3 C413.29,394 413.82,393.95 414.75,394.6 C415.68,395.25 416.81,396.9 417.4,398.2 C417.99,399.5 418.35,401 418.3,402.4 C418.25,403.8 417.88,405.55 417.1,406.6 C416.32,407.65 415.18,408.25 413.6,408.7 C412.02,409.15 409.4,409.42 407.6,409.3 C405.8,409.18 403.85,408.35 402.8,408 C401.75,407.65 401.67,407.92 401.3,407.2 C400.93,406.48 400.8,404.85 400.6,403.7 C400.4,402.55 399.23,401.52 400.1,400.3 Z" stroke="#333" stroke-width="0.8" fill="#e0eef9" />
<line x1="303.6" y1="426.1" x2="426.4" y2="426.1" stroke="#262626" stroke-width="0.8"/>
<line x1="338.4" y1="390.5" x2="417.4" y2="390.5" stroke="#404040" stroke-width="0.55"/>
<path d="M417.4,390.5 L414.5,391.92 L415.31,390.5 L414.5,389.08 Z" fill="#222" stroke="#222" stroke-width="0.25" stroke-linejoin="round"/>
<line x1="418.3" y1="389" x2="418.3" y2="399.9" stroke="#404040" stroke-width="0.6"/>
<line x1="414.75" y1="394.2" x2="426.7" y2="394.2" stroke="#1e1e1e" stroke-width="0.9"/>
<line x1="425.6" y1="394.2" x2="425.6" y2="426.1" stroke="#404040" stroke-width="0.6"/>
<path d="M425.6,394.4 L427.02,396.6 L425.6,395.98 L424.18,396.6 Z" fill="#222" stroke="#222" stroke-width="0.25" stroke-linejoin="round"/>
<path d="M425.6,425.9 L424.18,423.7 L425.6,424.32 L427.02,423.7 Z" fill="#222" stroke="#222" stroke-width="0.25" stroke-linejoin="round"/>
<text x="377.7" y="389.79" font-size="7.2" fill="#3b3333" text-anchor="middle">C</text>
<text x="421.9" y="413.19" font-size="7.2" fill="#3b3333" text-anchor="middle" transform="rotate(-90 421.9 410.6)">G</text>
<rect x="191.5" y="532.3" width="24.2" height="7" fill="#e0eef9"/>
<rect x="183.5" y="539.3" width="36.2" height="8.2" fill="#e0eef9"/>
<rect x="181.7" y="528.6" width="9.8" height="10.8" fill="#e0eef9"/>
<rect x="195.8" y="528.6" width="13.7" height="3.9" stroke="#555" stroke-width="0.6" fill="#e0eef9"/>
<line x1="196.6" y1="528.6" x2="196.6" y2="532.5" stroke="#333" stroke-width="0.6"/>
<line x1="199.6" y1="528.6" x2="199.6" y2="532.5" stroke="#333" stroke-width="0.6"/>
<line x1="205.6" y1="528.6" x2="205.6" y2="532.5" stroke="#333" stroke-width="0.6"/>
<line x1="191.5" y1="532.5" x2="215.7" y2="532.5" stroke="#555" stroke-width="0.75"/>
<line x1="183.5" y1="539.5" x2="219.7" y2="539.5" stroke="#333" stroke-width="0.7"/>
<line x1="215.7" y1="532.5" x2="215.7" y2="539.5" stroke="#333" stroke-width="0.7"/>
<line x1="219.7" y1="525" x2="219.7" y2="547.5" stroke="#262626" stroke-width="0.8"/>
<path d="M181.7,528.8 V537.5 Q181.7,539.4 183.7,539.4 H191.5" stroke="#1e1e1e" stroke-width="0.9" fill="none" />
<line x1="183.5" y1="539.3" x2="183.5" y2="547.5" stroke="#555" stroke-width="0.6"/>
<line x1="191.5" y1="528.6" x2="191.5" y2="539.3" stroke="#222" stroke-width="0.8"/>
<path d="M189.3,530.3 C189.9,532.3 189.9,535.3 189.3,537.3" stroke="#222" stroke-width="0.8" fill="none" />
<circle cx="187.3" cy="542.3" r="1.15" stroke="#222" stroke-width="0.8" fill="none"/>
<line x1="188.4" y1="541.3" x2="188.4" y2="543.5" stroke="#222" stroke-width="0.6"/>
<rect x="199.5" y="547.5" width="7" height="12.8" fill="#e0eef9"/>
<line x1="199.8" y1="547.5" x2="199.8" y2="560.3" stroke="#222" stroke-width="1.0"/>
<line x1="206.5" y1="547.5" x2="206.5" y2="560.3" stroke="#1e1e1e" stroke-width="0.9"/>
<line x1="199.5" y1="560.3" x2="206.5" y2="560.3" stroke="#333" stroke-width="0.6"/>
<line x1="202.5" y1="514.5" x2="202.5" y2="562.3" stroke="#3a3a3a" stroke-width="0.55" stroke-dasharray="4,1,1,1"/>
<line x1="170.3" y1="516.5" x2="202.5" y2="516.5" stroke="#333" stroke-width="0.6"/>
<path d="M180.5,516.5 L178.2,517.58 L178.84,516.5 L178.2,515.42 Z" fill="#222" stroke="#222" stroke-width="0.25" stroke-linejoin="round"/>
<path d="M183.5,516.5 L185.8,515.42 L185.16,516.5 L185.8,517.58 Z" fill="#222" stroke="#222" stroke-width="0.25" stroke-linejoin="round"/>
<path d="M202.3,516.5 L200,517.58 L200.64,516.5 L200,515.42 Z" fill="#222" stroke="#222" stroke-width="0.25" stroke-linejoin="round"/>
<path d="M202.7,516.5 L205,515.42 L204.36,516.5 L205,517.58 Z" fill="#222" stroke="#222" stroke-width="0.25" stroke-linejoin="round"/>
<line x1="180.5" y1="515" x2="180.5" y2="528.3" stroke="#404040" stroke-width="0.6"/>
<line x1="183.5" y1="515" x2="183.5" y2="528.3" stroke="#404040" stroke-width="0.6"/>
<line x1="202.5" y1="524.9" x2="219.7" y2="524.9" stroke="#404040" stroke-width="0.6"/>
<path d="M202.6,524.9 L204.8,523.82 L204.18,524.9 L204.8,525.98 Z" fill="#222" stroke="#222" stroke-width="0.25" stroke-linejoin="round"/>
<path d="M219.6,524.9 L217.4,525.98 L218.02,524.9 L217.4,523.82 Z" fill="#222" stroke="#222" stroke-width="0.25" stroke-linejoin="round"/>
<line x1="165.7" y1="528.6" x2="195.8" y2="528.6" stroke="#1e1e1e" stroke-width="1.0"/>
<line x1="167.7" y1="528.3" x2="167.7" y2="566.8" stroke="#404040" stroke-width="0.6"/>
<path d="M167.7,528.4 L169.12,530.6 L167.7,529.98 L166.28,530.6 Z" fill="#222" stroke="#222" stroke-width="0.25" stroke-linejoin="round"/>
<path d="M167.7,547.4 L166.28,545.2 L167.7,545.82 L169.12,545.2 Z" fill="#222" stroke="#222" stroke-width="0.25" stroke-linejoin="round"/>
<path d="M167.7,547.6 L169.12,550 L167.7,549.33 L166.28,550 Z" fill="#222" stroke="#222" stroke-width="0.25" stroke-linejoin="round"/>
<path d="M167.7,560.5 L169.12,563.1 L167.7,562.37 L166.28,563.1 Z" fill="#222" stroke="#222" stroke-width="0.25" stroke-linejoin="round"/>
<line x1="175" y1="528.3" x2="175" y2="547.5" stroke="#404040" stroke-width="0.6"/>
<path d="M175,528.4 L176.42,530.6 L175,529.98 L173.58,530.6 Z" fill="#222" stroke="#222" stroke-width="0.25" stroke-linejoin="round"/>
<path d="M175,547.4 L173.58,545.2 L175,545.82 L176.42,545.2 Z" fill="#222" stroke="#222" stroke-width="0.25" stroke-linejoin="round"/>
<line x1="167" y1="560.3" x2="199.5" y2="560.3" stroke="#2a2a2a" stroke-width="0.8"/>
<path d="M207,552.6 L216.3,562 H226.3" stroke="#222" stroke-width="0.75" fill="none" />
<line x1="201.2" y1="547.5" x2="201.2" y2="560.3" stroke="#555" stroke-width="0.5"/>
<path d="M206.9,552.5 L210.02,553.62 L208.43,554.03 L208.02,555.62 Z" fill="#222" stroke="#222" stroke-width="0.25" stroke-linejoin="round"/>
<text x="173.5" y="516.59" font-size="7.2" fill="#3b3333" text-anchor="middle">E</text>
<text x="193.5" y="516.59" font-size="7.2" fill="#34466e" text-anchor="middle">F</text>
<text x="211.5" y="524.09" font-size="7.2" fill="#34466e" text-anchor="middle">D</text>
<line x1="160.6" y1="537.6" x2="165.4" y2="537.6" stroke="#333" stroke-width="0.75"/>
<text x="171" y="540.59" font-size="7.2" fill="#3b3333" text-anchor="middle" transform="rotate(-90 171 538)">B</text>
<text x="163" y="557.19" font-size="7.2" fill="#3b3333" text-anchor="middle" transform="rotate(-90 163 554.6)">J</text>
<text x="222.3" y="560.59" font-size="7.2" fill="#3b3333" text-anchor="middle">M</text>
<rect x="215.7" y="533.6" width="48.6" height="5.1" fill="#e0eef9"/>
<line x1="215.7" y1="533.6" x2="264.3" y2="533.6" stroke="#555" stroke-width="0.6"/>
<line x1="215.7" y1="538.7" x2="264.3" y2="538.7" stroke="#1e1e1e" stroke-width="1.0"/>
<path d="M264.3,531.85 C265.63,530.37 267.41,529.49 269.41,529.19 C272.08,528.7 275.86,528.6 282.3,528.8 C282.74,530.57 282.86,533.53 282.52,536.49 C282.08,539.94 280.41,542.6 277.74,542.6 C275.41,542.6 273.19,542.21 271.19,541.71 C268.52,541.02 265.97,539.74 264.3,538.85 Z" stroke="#333" stroke-width="0.8" fill="#e0eef9" />
<line x1="167.7" y1="547.5" x2="291.7" y2="547.5" stroke="#262626" stroke-width="0.8"/>
<line x1="202.5" y1="516.5" x2="281.7" y2="516.5" stroke="#404040" stroke-width="0.55"/>
<path d="M281.7,516.5 L278.8,517.92 L279.61,516.5 L278.8,515.08 Z" fill="#222" stroke="#222" stroke-width="0.25" stroke-linejoin="round"/>
<line x1="281.7" y1="515" x2="281.7" y2="529" stroke="#404040" stroke-width="0.6"/>
<line x1="275" y1="529" x2="291.7" y2="529" stroke="#404040" stroke-width="0.6"/>
<line x1="290.7" y1="529" x2="290.7" y2="547.5" stroke="#404040" stroke-width="0.6"/>
<path d="M290.7,529.2 L292.12,531.4 L290.7,530.78 L289.28,531.4 Z" fill="#222" stroke="#222" stroke-width="0.25" stroke-linejoin="round"/>
<path d="M290.7,547.3 L289.28,545.1 L290.7,545.72 L292.12,545.1 Z" fill="#222" stroke="#222" stroke-width="0.25" stroke-linejoin="round"/>
<text x="242.3" y="516.39" font-size="7.2" fill="#3b3333" text-anchor="middle">C</text>
<text x="285.9" y="541.09" font-size="7.2" fill="#3b3333" text-anchor="middle" transform="rotate(-90 285.9 538.5)">G</text>
<rect x="327.5" y="532.3" width="24.2" height="7" fill="#e0eef9"/>
<rect x="319.5" y="539.3" width="36.2" height="8.2" fill="#e0eef9"/>
<rect x="317.7" y="528.6" width="9.8" height="10.8" fill="#e0eef9"/>
<rect x="331.8" y="528.6" width="13.7" height="3.9" stroke="#555" stroke-width="0.6" fill="#e0eef9"/>
<line x1="332.6" y1="528.6" x2="332.6" y2="532.5" stroke="#333" stroke-width="0.6"/>
<line x1="335.6" y1="528.6" x2="335.6" y2="532.5" stroke="#333" stroke-width="0.6"/>
<line x1="341.6" y1="528.6" x2="341.6" y2="532.5" stroke="#333" stroke-width="0.6"/>
<line x1="327.5" y1="532.5" x2="351.7" y2="532.5" stroke="#555" stroke-width="0.75"/>
<line x1="319.5" y1="539.5" x2="355.7" y2="539.5" stroke="#333" stroke-width="0.7"/>
<line x1="351.7" y1="532.5" x2="351.7" y2="539.5" stroke="#333" stroke-width="0.7"/>
<line x1="355.7" y1="521.5" x2="355.7" y2="547.5" stroke="#262626" stroke-width="0.8"/>
<path d="M317.7,528.8 V537.5 Q317.7,539.4 319.7,539.4 H327.5" stroke="#1e1e1e" stroke-width="0.9" fill="none" />
<line x1="319.5" y1="539.3" x2="319.5" y2="547.5" stroke="#555" stroke-width="0.6"/>
<line x1="327.5" y1="528.6" x2="327.5" y2="539.3" stroke="#222" stroke-width="0.8"/>
<path d="M325.3,530.3 C325.9,532.3 325.9,535.3 325.3,537.3" stroke="#222" stroke-width="0.8" fill="none" />
<circle cx="323.3" cy="542.3" r="1.15" stroke="#222" stroke-width="0.8" fill="none"/>
<line x1="324.4" y1="541.3" x2="324.4" y2="543.5" stroke="#222" stroke-width="0.6"/>
<rect x="335.5" y="547.5" width="7" height="12.8" fill="#e0eef9"/>
<line x1="335.8" y1="547.5" x2="335.8" y2="560.3" stroke="#222" stroke-width="1.0"/>
<line x1="342.5" y1="547.5" x2="342.5" y2="560.3" stroke="#1e1e1e" stroke-width="0.9"/>
<line x1="335.5" y1="560.3" x2="342.5" y2="560.3" stroke="#333" stroke-width="0.6"/>
<line x1="338.5" y1="511" x2="338.5" y2="562.3" stroke="#3a3a3a" stroke-width="0.55" stroke-dasharray="4,1,1,1"/>
<line x1="306.3" y1="513" x2="338.5" y2="513" stroke="#333" stroke-width="0.6"/>
<path d="M316.5,513 L314.2,514.08 L314.84,513 L314.2,511.92 Z" fill="#222" stroke="#222" stroke-width="0.25" stroke-linejoin="round"/>
<path d="M319.5,513 L321.8,511.92 L321.16,513 L321.8,514.08 Z" fill="#222" stroke="#222" stroke-width="0.25" stroke-linejoin="round"/>
<path d="M338.3,513 L336,514.08 L336.64,513 L336,511.92 Z" fill="#222" stroke="#222" stroke-width="0.25" stroke-linejoin="round"/>
<path d="M338.7,513 L341,511.92 L340.36,513 L341,514.08 Z" fill="#222" stroke="#222" stroke-width="0.25" stroke-linejoin="round"/>
<line x1="316.5" y1="511.5" x2="316.5" y2="528.3" stroke="#404040" stroke-width="0.6"/>
<line x1="319.5" y1="511.5" x2="319.5" y2="528.3" stroke="#404040" stroke-width="0.6"/>
<line x1="338.5" y1="521.4" x2="355.7" y2="521.4" stroke="#404040" stroke-width="0.6"/>
<path d="M338.6,521.4 L340.8,520.32 L340.18,521.4 L340.8,522.48 Z" fill="#222" stroke="#222" stroke-width="0.25" stroke-linejoin="round"/>
<path d="M355.6,521.4 L353.4,522.48 L354.02,521.4 L353.4,520.32 Z" fill="#222" stroke="#222" stroke-width="0.25" stroke-linejoin="round"/>
<line x1="301.7" y1="528.6" x2="331.8" y2="528.6" stroke="#1e1e1e" stroke-width="1.0"/>
<line x1="303.7" y1="528.3" x2="303.7" y2="566.8" stroke="#404040" stroke-width="0.6"/>
<path d="M303.7,528.4 L305.12,530.6 L303.7,529.98 L302.28,530.6 Z" fill="#222" stroke="#222" stroke-width="0.25" stroke-linejoin="round"/>
<path d="M303.7,547.4 L302.28,545.2 L303.7,545.82 L305.12,545.2 Z" fill="#222" stroke="#222" stroke-width="0.25" stroke-linejoin="round"/>
<path d="M303.7,547.6 L305.12,550 L303.7,549.33 L302.28,550 Z" fill="#222" stroke="#222" stroke-width="0.25" stroke-linejoin="round"/>
<path d="M303.7,560.5 L305.12,563.1 L303.7,562.37 L302.28,563.1 Z" fill="#222" stroke="#222" stroke-width="0.25" stroke-linejoin="round"/>
<line x1="311" y1="528.3" x2="311" y2="547.5" stroke="#404040" stroke-width="0.6"/>
<path d="M311,528.4 L312.42,530.6 L311,529.98 L309.58,530.6 Z" fill="#222" stroke="#222" stroke-width="0.25" stroke-linejoin="round"/>
<path d="M311,547.4 L309.58,545.2 L311,545.82 L312.42,545.2 Z" fill="#222" stroke="#222" stroke-width="0.25" stroke-linejoin="round"/>
<line x1="303" y1="560.3" x2="335.5" y2="560.3" stroke="#2a2a2a" stroke-width="0.8"/>
<path d="M343,552.6 L352.3,562 H362.3" stroke="#222" stroke-width="0.75" fill="none" />
<line x1="337.2" y1="547.5" x2="337.2" y2="560.3" stroke="#555" stroke-width="0.5"/>
<path d="M342.9,552.5 L346.02,553.62 L344.43,554.03 L344.02,555.62 Z" fill="#222" stroke="#222" stroke-width="0.25" stroke-linejoin="round"/>
<text x="309.5" y="513.09" font-size="7.2" fill="#3b3333" text-anchor="middle">E</text>
<text x="329.5" y="513.09" font-size="7.2" fill="#34466e" text-anchor="middle">F</text>
<text x="347.5" y="520.59" font-size="7.2" fill="#34466e" text-anchor="middle">D</text>
<line x1="296.6" y1="537.6" x2="301.4" y2="537.6" stroke="#333" stroke-width="0.75"/>
<text x="307" y="540.59" font-size="7.2" fill="#3b3333" text-anchor="middle" transform="rotate(-90 307 538)">B</text>
<text x="299" y="557.19" font-size="7.2" fill="#3b3333" text-anchor="middle" transform="rotate(-90 299 554.6)">J</text>
<text x="358.3" y="560.59" font-size="7.2" fill="#3b3333" text-anchor="middle">M</text>
<path d="M352.3,532.9 L360.1,533 Q363.6,532.8 366.6,532 L400.5,523.7 L401.3,529.2 L368.6,537.4 Q364.6,538.7 358.1,538.7 L352.3,538.7 Z" stroke="#333" stroke-width="0.7" fill="#e0eef9" />
<path d="M400.2,521.7 C401.07,520.48 403.95,518.8 405.9,517.8 C407.85,516.8 410.41,516 411.9,515.7 C413.39,515.4 413.92,515.35 414.85,516 C415.78,516.65 416.91,518.3 417.5,519.6 C418.09,520.9 418.45,522.4 418.4,523.8 C418.35,525.2 417.98,526.95 417.2,528 C416.42,529.05 415.28,529.65 413.7,530.1 C412.12,530.55 409.5,530.82 407.7,530.7 C405.9,530.58 403.95,529.75 402.9,529.4 C401.85,529.05 401.77,529.32 401.4,528.6 C401.03,527.88 400.9,526.25 400.7,525.1 C400.5,523.95 399.33,522.92 400.2,521.7 Z" stroke="#333" stroke-width="0.8" fill="#e0eef9" />
<line x1="303.7" y1="547.5" x2="426.5" y2="547.5" stroke="#262626" stroke-width="0.8"/>
<line x1="338.5" y1="513" x2="417.5" y2="513" stroke="#404040" stroke-width="0.55"/>
<path d="M417.5,513 L414.6,514.42 L415.41,513 L414.6,511.58 Z" fill="#222" stroke="#222" stroke-width="0.25" stroke-linejoin="round"/>
<line x1="418.4" y1="511.5" x2="418.4" y2="521.3" stroke="#404040" stroke-width="0.6"/>
<line x1="414.85" y1="515.6" x2="426.8" y2="515.6" stroke="#1e1e1e" stroke-width="0.9"/>
<line x1="425.7" y1="515.6" x2="425.7" y2="547.5" stroke="#404040" stroke-width="0.6"/>
<path d="M425.7,515.8 L427.12,518 L425.7,517.38 L424.28,518 Z" fill="#222" stroke="#222" stroke-width="0.25" stroke-linejoin="round"/>
<path d="M425.7,547.3 L424.28,545.1 L425.7,545.72 L427.12,545.1 Z" fill="#222" stroke="#222" stroke-width="0.25" stroke-linejoin="round"/>
<text x="377.8" y="512.29" font-size="7.2" fill="#3b3333" text-anchor="middle">C</text>
<text x="422" y="534.59" font-size="7.2" fill="#3b3333" text-anchor="middle" transform="rotate(-90 422 532)">G</text>
</svg></body></html>
